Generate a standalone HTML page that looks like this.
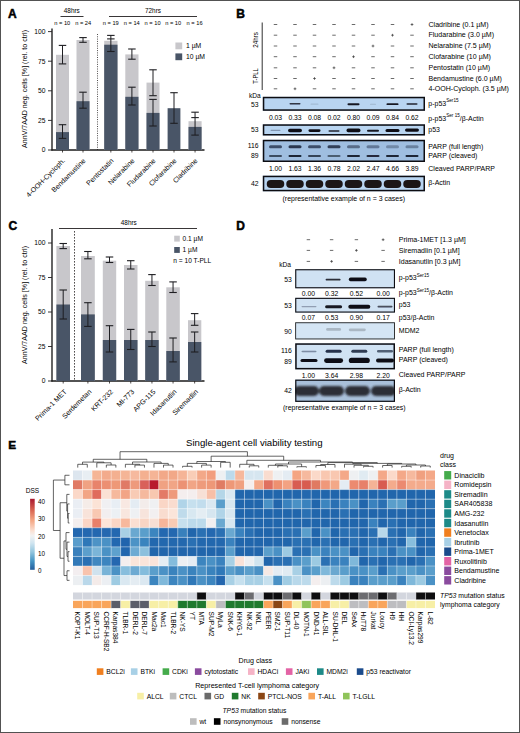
<!DOCTYPE html>
<html><head><meta charset="utf-8"><style>
html,body{margin:0;padding:0;background:#fff;}
svg{display:block;}
text{font-family:"Liberation Sans", sans-serif;}
</style></head><body>
<svg width="520" height="733" viewBox="0 0 520 733">
<defs>
<filter id="bl" x="-30%" y="-100%" width="160%" height="300%"><feGaussianBlur stdDeviation="0.7"/></filter>
<filter id="bl2" x="-30%" y="-100%" width="160%" height="300%"><feGaussianBlur stdDeviation="1.3"/></filter>
<linearGradient id="dss" x1="0" y1="0" x2="0" y2="1">
<stop offset="0" stop-color="#a8172e"/>
<stop offset="0.15" stop-color="#d6604d"/>
<stop offset="0.3" stop-color="#f4a582"/>
<stop offset="0.45" stop-color="#fbe0d2"/>
<stop offset="0.52" stop-color="#f2f2f2"/>
<stop offset="0.62" stop-color="#d1e5f0"/>
<stop offset="0.75" stop-color="#92c5de"/>
<stop offset="0.88" stop-color="#4393c3"/>
<stop offset="1" stop-color="#245d9c"/>
</linearGradient>
</defs>
<rect x="0" y="0" width="520" height="733" fill="#fff"/>

<text x="8.00" y="17.56" font-size="12" font-weight="bold" fill="#000" stroke="#000" stroke-width="0.5">A</text>
<text x="71.80" y="13.07" font-size="6.4" text-anchor="middle">48hrs</text>
<line x1="60.50" y1="16.50" x2="83.50" y2="16.50" stroke="#231f20" stroke-width="0.9"/>
<text x="153.00" y="13.07" font-size="6.4" text-anchor="middle">72hrs</text>
<line x1="109.00" y1="16.50" x2="197.00" y2="16.50" stroke="#231f20" stroke-width="0.9"/>
<text x="62.30" y="25.49" font-size="5.6" text-anchor="middle" textLength="16" lengthAdjust="spacingAndGlyphs">n = 10</text>
<text x="83.20" y="25.49" font-size="5.6" text-anchor="middle" textLength="16" lengthAdjust="spacingAndGlyphs">n = 24</text>
<text x="110.80" y="25.49" font-size="5.6" text-anchor="middle" textLength="16" lengthAdjust="spacingAndGlyphs">n = 19</text>
<text x="131.80" y="25.49" font-size="5.6" text-anchor="middle" textLength="16" lengthAdjust="spacingAndGlyphs">n = 14</text>
<text x="152.60" y="25.49" font-size="5.6" text-anchor="middle" textLength="16" lengthAdjust="spacingAndGlyphs">n = 10</text>
<text x="173.20" y="25.49" font-size="5.6" text-anchor="middle" textLength="16" lengthAdjust="spacingAndGlyphs">n = 10</text>
<text x="194.60" y="25.49" font-size="5.6" text-anchor="middle" textLength="16" lengthAdjust="spacingAndGlyphs">n = 16</text>
<line x1="52.00" y1="28.60" x2="52.00" y2="150.60" stroke="#1a1a1a" stroke-width="1.35"/>
<line x1="51.40" y1="150.00" x2="204.50" y2="150.00" stroke="#1a1a1a" stroke-width="1.35"/>
<line x1="48.00" y1="150.00" x2="52.00" y2="150.00" stroke="#231f20" stroke-width="0.9"/>
<text x="45.40" y="152.38" font-size="6.7" text-anchor="end">0</text>
<line x1="48.00" y1="120.40" x2="52.00" y2="120.40" stroke="#231f20" stroke-width="0.9"/>
<text x="45.40" y="122.78" font-size="6.7" text-anchor="end">25</text>
<line x1="48.00" y1="90.80" x2="52.00" y2="90.80" stroke="#231f20" stroke-width="0.9"/>
<text x="45.40" y="93.18" font-size="6.7" text-anchor="end">50</text>
<line x1="48.00" y1="61.20" x2="52.00" y2="61.20" stroke="#231f20" stroke-width="0.9"/>
<text x="45.40" y="63.58" font-size="6.7" text-anchor="end">75</text>
<line x1="48.00" y1="31.60" x2="52.00" y2="31.60" stroke="#231f20" stroke-width="0.9"/>
<text x="45.40" y="33.98" font-size="6.7" text-anchor="end">100</text>
<text x="24.40" y="91.70" font-size="7.6" text-anchor="middle" textLength="118" lengthAdjust="spacingAndGlyphs" transform="rotate(-90 24.40 89.00)">AnnV/7AAD neg. cells [%] (rel. to ctrl)</text>
<rect x="56.00" y="54.80" width="13.00" height="95.20" fill="#c8c7cb"/>
<rect x="56.00" y="132.10" width="13.00" height="17.90" fill="#495567"/>
<line x1="62.50" y1="45.40" x2="62.50" y2="63.90" stroke="#1e1e22" stroke-width="1.0"/>
<line x1="58.75" y1="45.40" x2="66.25" y2="45.40" stroke="#1e1e22" stroke-width="1.1"/>
<line x1="58.75" y1="63.90" x2="66.25" y2="63.90" stroke="#1e1e22" stroke-width="1.1"/>
<line x1="62.50" y1="124.70" x2="62.50" y2="138.40" stroke="#1e1e22" stroke-width="1.0"/>
<line x1="58.75" y1="124.70" x2="66.25" y2="124.70" stroke="#1e1e22" stroke-width="1.1"/>
<line x1="58.75" y1="138.40" x2="66.25" y2="138.40" stroke="#1e1e22" stroke-width="1.1"/>
<line x1="62.50" y1="150.00" x2="62.50" y2="152.50" stroke="#231f20" stroke-width="0.8"/>
<rect x="76.50" y="40.00" width="13.00" height="110.00" fill="#c8c7cb"/>
<rect x="76.50" y="101.20" width="13.00" height="48.80" fill="#495567"/>
<line x1="83.00" y1="37.60" x2="83.00" y2="42.30" stroke="#1e1e22" stroke-width="1.0"/>
<line x1="79.25" y1="37.60" x2="86.75" y2="37.60" stroke="#1e1e22" stroke-width="1.1"/>
<line x1="79.25" y1="42.30" x2="86.75" y2="42.30" stroke="#1e1e22" stroke-width="1.1"/>
<line x1="83.00" y1="92.20" x2="83.00" y2="108.20" stroke="#1e1e22" stroke-width="1.0"/>
<line x1="79.25" y1="92.20" x2="86.75" y2="92.20" stroke="#1e1e22" stroke-width="1.1"/>
<line x1="79.25" y1="108.20" x2="86.75" y2="108.20" stroke="#1e1e22" stroke-width="1.1"/>
<line x1="83.00" y1="150.00" x2="83.00" y2="152.50" stroke="#231f20" stroke-width="0.8"/>
<rect x="104.20" y="40.80" width="13.30" height="109.20" fill="#c8c7cb"/>
<rect x="104.20" y="44.70" width="13.30" height="105.30" fill="#495567"/>
<line x1="110.85" y1="35.40" x2="110.85" y2="51.50" stroke="#1e1e22" stroke-width="1.0"/>
<line x1="107.10" y1="35.40" x2="114.60" y2="35.40" stroke="#1e1e22" stroke-width="1.1"/>
<line x1="107.10" y1="51.50" x2="114.60" y2="51.50" stroke="#1e1e22" stroke-width="1.1"/>
<line x1="107.10" y1="38.90" x2="114.60" y2="38.90" stroke="#1e1e22" stroke-width="1.1"/>
<line x1="110.85" y1="150.00" x2="110.85" y2="152.50" stroke="#231f20" stroke-width="0.8"/>
<rect x="125.30" y="54.40" width="13.20" height="95.60" fill="#c8c7cb"/>
<rect x="125.30" y="96.80" width="13.20" height="53.20" fill="#495567"/>
<line x1="131.90" y1="49.00" x2="131.90" y2="59.20" stroke="#1e1e22" stroke-width="1.0"/>
<line x1="128.15" y1="49.00" x2="135.65" y2="49.00" stroke="#1e1e22" stroke-width="1.1"/>
<line x1="128.15" y1="59.20" x2="135.65" y2="59.20" stroke="#1e1e22" stroke-width="1.1"/>
<line x1="131.90" y1="87.20" x2="131.90" y2="105.00" stroke="#1e1e22" stroke-width="1.0"/>
<line x1="128.15" y1="87.20" x2="135.65" y2="87.20" stroke="#1e1e22" stroke-width="1.1"/>
<line x1="128.15" y1="105.00" x2="135.65" y2="105.00" stroke="#1e1e22" stroke-width="1.1"/>
<line x1="131.90" y1="150.00" x2="131.90" y2="152.50" stroke="#231f20" stroke-width="0.8"/>
<rect x="146.50" y="82.60" width="13.00" height="67.40" fill="#c8c7cb"/>
<rect x="146.50" y="112.90" width="13.00" height="37.10" fill="#495567"/>
<line x1="153.00" y1="69.80" x2="153.00" y2="95.70" stroke="#1e1e22" stroke-width="1.0"/>
<line x1="149.25" y1="69.80" x2="156.75" y2="69.80" stroke="#1e1e22" stroke-width="1.1"/>
<line x1="149.25" y1="95.70" x2="156.75" y2="95.70" stroke="#1e1e22" stroke-width="1.1"/>
<line x1="153.00" y1="99.40" x2="153.00" y2="126.00" stroke="#1e1e22" stroke-width="1.0"/>
<line x1="149.25" y1="99.40" x2="156.75" y2="99.40" stroke="#1e1e22" stroke-width="1.1"/>
<line x1="149.25" y1="126.00" x2="156.75" y2="126.00" stroke="#1e1e22" stroke-width="1.1"/>
<line x1="153.00" y1="150.00" x2="153.00" y2="152.50" stroke="#231f20" stroke-width="0.8"/>
<rect x="167.60" y="108.20" width="12.80" height="41.80" fill="#495567"/>
<line x1="174.00" y1="92.70" x2="174.00" y2="123.30" stroke="#1e1e22" stroke-width="1.0"/>
<line x1="170.25" y1="92.70" x2="177.75" y2="92.70" stroke="#1e1e22" stroke-width="1.1"/>
<line x1="170.25" y1="123.30" x2="177.75" y2="123.30" stroke="#1e1e22" stroke-width="1.1"/>
<line x1="174.00" y1="150.00" x2="174.00" y2="152.50" stroke="#231f20" stroke-width="0.8"/>
<rect x="188.50" y="121.20" width="13.10" height="28.80" fill="#c8c7cb"/>
<rect x="188.50" y="126.90" width="13.10" height="23.10" fill="#495567"/>
<line x1="195.05" y1="112.20" x2="195.05" y2="135.10" stroke="#1e1e22" stroke-width="1.0"/>
<line x1="191.30" y1="112.20" x2="198.80" y2="112.20" stroke="#1e1e22" stroke-width="1.1"/>
<line x1="191.30" y1="135.10" x2="198.80" y2="135.10" stroke="#1e1e22" stroke-width="1.1"/>
<line x1="191.30" y1="117.60" x2="198.80" y2="117.60" stroke="#1e1e22" stroke-width="1.1"/>
<line x1="195.05" y1="150.00" x2="195.05" y2="152.50" stroke="#231f20" stroke-width="0.8"/>
<line x1="97.50" y1="34.00" x2="97.50" y2="150.00" stroke="#231f20" stroke-width="0.8" stroke-dasharray="1 1.3"/>
<rect x="175.40" y="42.50" width="6.80" height="6.80" fill="#c8c7cb"/>
<rect x="175.40" y="53.40" width="6.80" height="6.80" fill="#495567"/>
<text x="186.00" y="48.41" font-size="6.8">1 µM</text>
<text x="186.00" y="59.21" font-size="6.8">10 µM</text>
<text x="65.50" y="161.2" font-size="7.0" text-anchor="end" transform="rotate(-45 65.50 161.2)">4-OOH-Cycloph.</text>
<text x="86.00" y="161.2" font-size="7.0" text-anchor="end" transform="rotate(-45 86.00 161.2)">Bendamustine</text>
<text x="113.90" y="161.2" font-size="7.0" text-anchor="end" transform="rotate(-45 113.90 161.2)">Pentostatin</text>
<text x="134.90" y="161.2" font-size="7.0" text-anchor="end" transform="rotate(-45 134.90 161.2)">Nelarabine</text>
<text x="156.00" y="161.2" font-size="7.0" text-anchor="end" transform="rotate(-45 156.00 161.2)">Fludarabine</text>
<text x="177.00" y="161.2" font-size="7.0" text-anchor="end" transform="rotate(-45 177.00 161.2)">Clofarabine</text>
<text x="198.00" y="161.2" font-size="7.0" text-anchor="end" transform="rotate(-45 198.00 161.2)">Cladribine</text>
<text x="8.50" y="229.56" font-size="12" font-weight="bold" fill="#000" stroke="#000" stroke-width="0.5">C</text>
<text x="128.80" y="225.17" font-size="6.4" text-anchor="middle">48hrs</text>
<line x1="59.00" y1="228.50" x2="197.00" y2="228.50" stroke="#231f20" stroke-width="0.9"/>
<line x1="52.00" y1="229.00" x2="52.00" y2="381.60" stroke="#1a1a1a" stroke-width="1.35"/>
<line x1="51.40" y1="381.00" x2="204.50" y2="381.00" stroke="#1a1a1a" stroke-width="1.35"/>
<line x1="48.00" y1="381.00" x2="52.00" y2="381.00" stroke="#231f20" stroke-width="0.9"/>
<text x="45.40" y="383.38" font-size="6.7" text-anchor="end">0</text>
<line x1="48.00" y1="346.50" x2="52.00" y2="346.50" stroke="#231f20" stroke-width="0.9"/>
<text x="45.40" y="348.88" font-size="6.7" text-anchor="end">25</text>
<line x1="48.00" y1="312.00" x2="52.00" y2="312.00" stroke="#231f20" stroke-width="0.9"/>
<text x="45.40" y="314.38" font-size="6.7" text-anchor="end">50</text>
<line x1="48.00" y1="277.50" x2="52.00" y2="277.50" stroke="#231f20" stroke-width="0.9"/>
<text x="45.40" y="279.88" font-size="6.7" text-anchor="end">75</text>
<line x1="48.00" y1="243.00" x2="52.00" y2="243.00" stroke="#231f20" stroke-width="0.9"/>
<text x="45.40" y="245.38" font-size="6.7" text-anchor="end">100</text>
<text x="24.80" y="307.70" font-size="7.6" text-anchor="middle" textLength="118" lengthAdjust="spacingAndGlyphs" transform="rotate(-90 24.80 305.00)">AnnV/7AAD neg. cells [%] (rel. to ctrl)</text>
<rect x="56.40" y="246.00" width="13.60" height="135.00" fill="#c8c7cb"/>
<rect x="56.40" y="304.50" width="13.60" height="76.50" fill="#495567"/>
<line x1="63.20" y1="243.50" x2="63.20" y2="248.60" stroke="#1e1e22" stroke-width="1.0"/>
<line x1="59.45" y1="243.50" x2="66.95" y2="243.50" stroke="#1e1e22" stroke-width="1.1"/>
<line x1="59.45" y1="248.60" x2="66.95" y2="248.60" stroke="#1e1e22" stroke-width="1.1"/>
<line x1="63.20" y1="290.00" x2="63.20" y2="319.00" stroke="#1e1e22" stroke-width="1.0"/>
<line x1="59.45" y1="290.00" x2="66.95" y2="290.00" stroke="#1e1e22" stroke-width="1.1"/>
<line x1="59.45" y1="319.00" x2="66.95" y2="319.00" stroke="#1e1e22" stroke-width="1.1"/>
<line x1="63.20" y1="381.00" x2="63.20" y2="383.50" stroke="#231f20" stroke-width="0.8"/>
<rect x="81.00" y="256.00" width="13.80" height="125.00" fill="#c8c7cb"/>
<rect x="81.00" y="314.40" width="13.80" height="66.60" fill="#495567"/>
<line x1="87.90" y1="251.50" x2="87.90" y2="258.80" stroke="#1e1e22" stroke-width="1.0"/>
<line x1="84.15" y1="251.50" x2="91.65" y2="251.50" stroke="#1e1e22" stroke-width="1.1"/>
<line x1="84.15" y1="258.80" x2="91.65" y2="258.80" stroke="#1e1e22" stroke-width="1.1"/>
<line x1="87.90" y1="302.70" x2="87.90" y2="326.40" stroke="#1e1e22" stroke-width="1.0"/>
<line x1="84.15" y1="302.70" x2="91.65" y2="302.70" stroke="#1e1e22" stroke-width="1.1"/>
<line x1="84.15" y1="326.40" x2="91.65" y2="326.40" stroke="#1e1e22" stroke-width="1.1"/>
<line x1="87.90" y1="381.00" x2="87.90" y2="383.50" stroke="#231f20" stroke-width="0.8"/>
<rect x="102.80" y="260.70" width="13.40" height="120.30" fill="#c8c7cb"/>
<rect x="102.80" y="340.00" width="13.40" height="41.00" fill="#495567"/>
<line x1="109.50" y1="257.00" x2="109.50" y2="262.50" stroke="#1e1e22" stroke-width="1.0"/>
<line x1="105.75" y1="257.00" x2="113.25" y2="257.00" stroke="#1e1e22" stroke-width="1.1"/>
<line x1="105.75" y1="262.50" x2="113.25" y2="262.50" stroke="#1e1e22" stroke-width="1.1"/>
<line x1="109.50" y1="325.70" x2="109.50" y2="352.00" stroke="#1e1e22" stroke-width="1.0"/>
<line x1="105.75" y1="325.70" x2="113.25" y2="325.70" stroke="#1e1e22" stroke-width="1.1"/>
<line x1="105.75" y1="352.00" x2="113.25" y2="352.00" stroke="#1e1e22" stroke-width="1.1"/>
<line x1="109.50" y1="381.00" x2="109.50" y2="383.50" stroke="#231f20" stroke-width="0.8"/>
<rect x="124.00" y="265.00" width="13.50" height="116.00" fill="#c8c7cb"/>
<rect x="124.00" y="340.00" width="13.50" height="41.00" fill="#495567"/>
<line x1="130.75" y1="260.70" x2="130.75" y2="269.00" stroke="#1e1e22" stroke-width="1.0"/>
<line x1="127.00" y1="260.70" x2="134.50" y2="260.70" stroke="#1e1e22" stroke-width="1.1"/>
<line x1="127.00" y1="269.00" x2="134.50" y2="269.00" stroke="#1e1e22" stroke-width="1.1"/>
<line x1="130.75" y1="329.40" x2="130.75" y2="349.50" stroke="#1e1e22" stroke-width="1.0"/>
<line x1="127.00" y1="329.40" x2="134.50" y2="329.40" stroke="#1e1e22" stroke-width="1.1"/>
<line x1="127.00" y1="349.50" x2="134.50" y2="349.50" stroke="#1e1e22" stroke-width="1.1"/>
<line x1="130.75" y1="381.00" x2="130.75" y2="383.50" stroke="#231f20" stroke-width="0.8"/>
<rect x="145.20" y="280.80" width="13.50" height="100.20" fill="#c8c7cb"/>
<rect x="145.20" y="340.00" width="13.50" height="41.00" fill="#495567"/>
<line x1="151.95" y1="274.60" x2="151.95" y2="285.50" stroke="#1e1e22" stroke-width="1.0"/>
<line x1="148.20" y1="274.60" x2="155.70" y2="274.60" stroke="#1e1e22" stroke-width="1.1"/>
<line x1="148.20" y1="285.50" x2="155.70" y2="285.50" stroke="#1e1e22" stroke-width="1.1"/>
<line x1="151.95" y1="332.00" x2="151.95" y2="346.50" stroke="#1e1e22" stroke-width="1.0"/>
<line x1="148.20" y1="332.00" x2="155.70" y2="332.00" stroke="#1e1e22" stroke-width="1.1"/>
<line x1="148.20" y1="346.50" x2="155.70" y2="346.50" stroke="#1e1e22" stroke-width="1.1"/>
<line x1="151.95" y1="381.00" x2="151.95" y2="383.50" stroke="#231f20" stroke-width="0.8"/>
<rect x="166.30" y="287.30" width="13.50" height="93.70" fill="#c8c7cb"/>
<rect x="166.30" y="351.00" width="13.50" height="30.00" fill="#495567"/>
<line x1="173.05" y1="281.90" x2="173.05" y2="292.50" stroke="#1e1e22" stroke-width="1.0"/>
<line x1="169.30" y1="281.90" x2="176.80" y2="281.90" stroke="#1e1e22" stroke-width="1.1"/>
<line x1="169.30" y1="292.50" x2="176.80" y2="292.50" stroke="#1e1e22" stroke-width="1.1"/>
<line x1="173.05" y1="338.00" x2="173.05" y2="361.90" stroke="#1e1e22" stroke-width="1.0"/>
<line x1="169.30" y1="338.00" x2="176.80" y2="338.00" stroke="#1e1e22" stroke-width="1.1"/>
<line x1="169.30" y1="361.90" x2="176.80" y2="361.90" stroke="#1e1e22" stroke-width="1.1"/>
<line x1="173.05" y1="381.00" x2="173.05" y2="383.50" stroke="#231f20" stroke-width="0.8"/>
<rect x="188.00" y="320.20" width="13.30" height="60.80" fill="#c8c7cb"/>
<rect x="188.00" y="342.00" width="13.30" height="39.00" fill="#495567"/>
<line x1="194.65" y1="313.60" x2="194.65" y2="325.30" stroke="#1e1e22" stroke-width="1.0"/>
<line x1="190.90" y1="313.60" x2="198.40" y2="313.60" stroke="#1e1e22" stroke-width="1.1"/>
<line x1="190.90" y1="325.30" x2="198.40" y2="325.30" stroke="#1e1e22" stroke-width="1.1"/>
<line x1="194.65" y1="332.00" x2="194.65" y2="352.00" stroke="#1e1e22" stroke-width="1.0"/>
<line x1="190.90" y1="332.00" x2="198.40" y2="332.00" stroke="#1e1e22" stroke-width="1.1"/>
<line x1="190.90" y1="352.00" x2="198.40" y2="352.00" stroke="#1e1e22" stroke-width="1.1"/>
<line x1="194.65" y1="381.00" x2="194.65" y2="383.50" stroke="#231f20" stroke-width="0.8"/>
<line x1="74.50" y1="231.00" x2="74.50" y2="381.00" stroke="#231f20" stroke-width="0.8" stroke-dasharray="1.6 1.4"/>
<rect x="174.20" y="235.70" width="5.60" height="5.90" fill="#c8c7cb"/>
<rect x="174.20" y="247.00" width="5.60" height="5.90" fill="#495567"/>
<text x="182.60" y="240.84" font-size="6.6">0.1 µM</text>
<text x="182.60" y="252.24" font-size="6.6">1 µM</text>
<text x="173.30" y="262.54" font-size="6.6">n = 10 T-PLL</text>
<text x="67.20" y="392.2" font-size="7.0" text-anchor="end" transform="rotate(-45 67.20 392.2)">Prima-1 MET</text>
<text x="91.90" y="392.2" font-size="7.0" text-anchor="end" transform="rotate(-45 91.90 392.2)">Serdemetan</text>
<text x="113.50" y="392.2" font-size="7.0" text-anchor="end" transform="rotate(-45 113.50 392.2)">KRT-232</text>
<text x="134.80" y="392.2" font-size="7.0" text-anchor="end" transform="rotate(-45 134.80 392.2)">MI-773</text>
<text x="156.00" y="392.2" font-size="7.0" text-anchor="end" transform="rotate(-45 156.00 392.2)">APG-115</text>
<text x="177.00" y="392.2" font-size="7.0" text-anchor="end" transform="rotate(-45 177.00 392.2)">Idasanutlin</text>
<text x="198.60" y="392.2" font-size="7.0" text-anchor="end" transform="rotate(-45 198.60 392.2)">Siremadlin</text>
<text x="236.20" y="17.56" font-size="12" font-weight="bold" fill="#000" stroke="#000" stroke-width="0.5">B</text>
<line x1="262.20" y1="22.50" x2="262.20" y2="90.00" stroke="#1a1a1a" stroke-width="0.9"/>
<text x="255.60" y="42.34" font-size="6.6" text-anchor="middle" textLength="15.6" lengthAdjust="spacingAndGlyphs" transform="rotate(-90 255.60 40.00)">24hrs</text>
<text x="255.60" y="78.34" font-size="6.6" text-anchor="middle" textLength="15.4" lengthAdjust="spacingAndGlyphs" transform="rotate(-90 255.60 76.00)">T-PLL</text>
<line x1="273.75" y1="24.50" x2="277.25" y2="24.50" stroke="#3a3a3a" stroke-width="0.75"/>
<line x1="293.25" y1="24.50" x2="296.75" y2="24.50" stroke="#3a3a3a" stroke-width="0.75"/>
<line x1="312.75" y1="24.50" x2="316.25" y2="24.50" stroke="#3a3a3a" stroke-width="0.75"/>
<line x1="332.25" y1="24.50" x2="335.75" y2="24.50" stroke="#3a3a3a" stroke-width="0.75"/>
<line x1="351.75" y1="24.50" x2="355.25" y2="24.50" stroke="#3a3a3a" stroke-width="0.75"/>
<line x1="371.25" y1="24.50" x2="374.75" y2="24.50" stroke="#3a3a3a" stroke-width="0.75"/>
<line x1="390.75" y1="24.50" x2="394.25" y2="24.50" stroke="#3a3a3a" stroke-width="0.75"/>
<line x1="410.65" y1="24.50" x2="413.35" y2="24.50" stroke="#333" stroke-width="0.7"/>
<line x1="412.00" y1="23.15" x2="412.00" y2="25.85" stroke="#333" stroke-width="0.7"/>
<text x="428.50" y="26.70" font-size="7.05">Cladribine (0.1 µM)</text>
<line x1="273.75" y1="35.20" x2="277.25" y2="35.20" stroke="#3a3a3a" stroke-width="0.75"/>
<line x1="293.25" y1="35.20" x2="296.75" y2="35.20" stroke="#3a3a3a" stroke-width="0.75"/>
<line x1="312.75" y1="35.20" x2="316.25" y2="35.20" stroke="#3a3a3a" stroke-width="0.75"/>
<line x1="332.25" y1="35.20" x2="335.75" y2="35.20" stroke="#3a3a3a" stroke-width="0.75"/>
<line x1="351.75" y1="35.20" x2="355.25" y2="35.20" stroke="#3a3a3a" stroke-width="0.75"/>
<line x1="371.25" y1="35.20" x2="374.75" y2="35.20" stroke="#3a3a3a" stroke-width="0.75"/>
<line x1="391.15" y1="35.20" x2="393.85" y2="35.20" stroke="#333" stroke-width="0.7"/>
<line x1="392.50" y1="33.85" x2="392.50" y2="36.55" stroke="#333" stroke-width="0.7"/>
<line x1="410.25" y1="35.20" x2="413.75" y2="35.20" stroke="#3a3a3a" stroke-width="0.75"/>
<text x="428.50" y="37.40" font-size="7.05">Fludarabine (3.0 µM)</text>
<line x1="273.75" y1="46.00" x2="277.25" y2="46.00" stroke="#3a3a3a" stroke-width="0.75"/>
<line x1="293.25" y1="46.00" x2="296.75" y2="46.00" stroke="#3a3a3a" stroke-width="0.75"/>
<line x1="312.75" y1="46.00" x2="316.25" y2="46.00" stroke="#3a3a3a" stroke-width="0.75"/>
<line x1="332.25" y1="46.00" x2="335.75" y2="46.00" stroke="#3a3a3a" stroke-width="0.75"/>
<line x1="351.75" y1="46.00" x2="355.25" y2="46.00" stroke="#3a3a3a" stroke-width="0.75"/>
<line x1="371.65" y1="46.00" x2="374.35" y2="46.00" stroke="#333" stroke-width="0.7"/>
<line x1="373.00" y1="44.65" x2="373.00" y2="47.35" stroke="#333" stroke-width="0.7"/>
<line x1="390.75" y1="46.00" x2="394.25" y2="46.00" stroke="#3a3a3a" stroke-width="0.75"/>
<line x1="410.25" y1="46.00" x2="413.75" y2="46.00" stroke="#3a3a3a" stroke-width="0.75"/>
<text x="428.50" y="48.20" font-size="7.05">Nelarabine (7.5 µM)</text>
<line x1="273.75" y1="56.70" x2="277.25" y2="56.70" stroke="#3a3a3a" stroke-width="0.75"/>
<line x1="293.25" y1="56.70" x2="296.75" y2="56.70" stroke="#3a3a3a" stroke-width="0.75"/>
<line x1="312.75" y1="56.70" x2="316.25" y2="56.70" stroke="#3a3a3a" stroke-width="0.75"/>
<line x1="332.25" y1="56.70" x2="335.75" y2="56.70" stroke="#3a3a3a" stroke-width="0.75"/>
<line x1="352.15" y1="56.70" x2="354.85" y2="56.70" stroke="#333" stroke-width="0.7"/>
<line x1="353.50" y1="55.35" x2="353.50" y2="58.05" stroke="#333" stroke-width="0.7"/>
<line x1="371.25" y1="56.70" x2="374.75" y2="56.70" stroke="#3a3a3a" stroke-width="0.75"/>
<line x1="390.75" y1="56.70" x2="394.25" y2="56.70" stroke="#3a3a3a" stroke-width="0.75"/>
<line x1="410.25" y1="56.70" x2="413.75" y2="56.70" stroke="#3a3a3a" stroke-width="0.75"/>
<text x="428.50" y="58.90" font-size="7.05">Clofarabine (10 µM)</text>
<line x1="273.75" y1="67.80" x2="277.25" y2="67.80" stroke="#3a3a3a" stroke-width="0.75"/>
<line x1="293.25" y1="67.80" x2="296.75" y2="67.80" stroke="#3a3a3a" stroke-width="0.75"/>
<line x1="312.75" y1="67.80" x2="316.25" y2="67.80" stroke="#3a3a3a" stroke-width="0.75"/>
<line x1="332.65" y1="67.80" x2="335.35" y2="67.80" stroke="#333" stroke-width="0.7"/>
<line x1="334.00" y1="66.45" x2="334.00" y2="69.15" stroke="#333" stroke-width="0.7"/>
<line x1="351.75" y1="67.80" x2="355.25" y2="67.80" stroke="#3a3a3a" stroke-width="0.75"/>
<line x1="371.25" y1="67.80" x2="374.75" y2="67.80" stroke="#3a3a3a" stroke-width="0.75"/>
<line x1="390.75" y1="67.80" x2="394.25" y2="67.80" stroke="#3a3a3a" stroke-width="0.75"/>
<line x1="410.25" y1="67.80" x2="413.75" y2="67.80" stroke="#3a3a3a" stroke-width="0.75"/>
<text x="428.50" y="70.00" font-size="7.05">Pentostatin (10 µM)</text>
<line x1="273.75" y1="78.50" x2="277.25" y2="78.50" stroke="#3a3a3a" stroke-width="0.75"/>
<line x1="293.25" y1="78.50" x2="296.75" y2="78.50" stroke="#3a3a3a" stroke-width="0.75"/>
<line x1="313.15" y1="78.50" x2="315.85" y2="78.50" stroke="#333" stroke-width="0.7"/>
<line x1="314.50" y1="77.15" x2="314.50" y2="79.85" stroke="#333" stroke-width="0.7"/>
<line x1="332.25" y1="78.50" x2="335.75" y2="78.50" stroke="#3a3a3a" stroke-width="0.75"/>
<line x1="351.75" y1="78.50" x2="355.25" y2="78.50" stroke="#3a3a3a" stroke-width="0.75"/>
<line x1="371.25" y1="78.50" x2="374.75" y2="78.50" stroke="#3a3a3a" stroke-width="0.75"/>
<line x1="390.75" y1="78.50" x2="394.25" y2="78.50" stroke="#3a3a3a" stroke-width="0.75"/>
<line x1="410.25" y1="78.50" x2="413.75" y2="78.50" stroke="#3a3a3a" stroke-width="0.75"/>
<text x="428.50" y="80.70" font-size="7.05">Bendamustine (6.0 µM)</text>
<line x1="273.75" y1="88.80" x2="277.25" y2="88.80" stroke="#3a3a3a" stroke-width="0.75"/>
<line x1="293.65" y1="88.80" x2="296.35" y2="88.80" stroke="#333" stroke-width="0.7"/>
<line x1="295.00" y1="87.45" x2="295.00" y2="90.15" stroke="#333" stroke-width="0.7"/>
<line x1="312.75" y1="88.80" x2="316.25" y2="88.80" stroke="#3a3a3a" stroke-width="0.75"/>
<line x1="332.25" y1="88.80" x2="335.75" y2="88.80" stroke="#3a3a3a" stroke-width="0.75"/>
<line x1="351.75" y1="88.80" x2="355.25" y2="88.80" stroke="#3a3a3a" stroke-width="0.75"/>
<line x1="371.25" y1="88.80" x2="374.75" y2="88.80" stroke="#3a3a3a" stroke-width="0.75"/>
<line x1="390.75" y1="88.80" x2="394.25" y2="88.80" stroke="#3a3a3a" stroke-width="0.75"/>
<line x1="410.25" y1="88.80" x2="413.75" y2="88.80" stroke="#3a3a3a" stroke-width="0.75"/>
<text x="428.50" y="91.00" font-size="7.05">4-OOH-Cycloph. (3.5 µM)</text>
<text x="249.00" y="98.24" font-size="6.6">kDa</text>
<clipPath id="cp1"><rect x="262.80" y="96.80" width="162.20" height="14.00"/></clipPath>
<g>
<rect x="262.80" y="96.80" width="162.20" height="14.00" fill="#b9d5f1"/>
<g clip-path="url(#cp1)"><g filter="url(#bl)">
<rect x="289.50" y="103.05" width="11.00" height="1.50" rx="0.75" fill="#101018" fill-opacity="0.8"/>
<rect x="310.50" y="103.60" width="8.00" height="1.20" rx="0.60" fill="#101018" fill-opacity="0.12"/>
<rect x="347.50" y="103.20" width="12.00" height="2.00" rx="1.00" fill="#101018" fill-opacity="0.95"/>
<rect x="370.00" y="103.80" width="6.00" height="1.00" rx="0.50" fill="#101018" fill-opacity="0.15"/>
<rect x="386.50" y="103.30" width="12.00" height="1.80" rx="0.90" fill="#101018" fill-opacity="0.95"/>
<rect x="406.50" y="103.20" width="11.00" height="1.60" rx="0.80" fill="#101018" fill-opacity="0.9"/>
</g></g>
<rect x="263.55" y="97.55" width="160.70" height="12.50" fill="none" stroke="#0d0d12" stroke-width="1.5"/>
</g>
<clipPath id="cp2"><rect x="262.80" y="124.30" width="162.20" height="11.20"/></clipPath>
<g>
<rect x="262.80" y="124.30" width="162.20" height="11.20" fill="#b9d5f1"/>
<g clip-path="url(#cp2)"><g filter="url(#bl)">
<rect x="270.50" y="129.70" width="10.00" height="1.20" rx="0.60" fill="#101018" fill-opacity="0.3"/>
<rect x="288.00" y="128.70" width="14.00" height="3.60" rx="1.80" fill="#101018" fill-opacity="1"/>
<rect x="308.50" y="129.30" width="12.00" height="2.60" rx="1.30" fill="#101018" fill-opacity="1"/>
<rect x="328.50" y="130.15" width="11.00" height="1.50" rx="0.75" fill="#101018" fill-opacity="0.9"/>
<rect x="346.50" y="128.60" width="14.00" height="3.60" rx="1.80" fill="#101018" fill-opacity="1"/>
<rect x="367.00" y="129.70" width="12.00" height="2.00" rx="1.00" fill="#101018" fill-opacity="0.95"/>
<rect x="385.50" y="128.90" width="14.00" height="3.00" rx="1.50" fill="#101018" fill-opacity="1"/>
<rect x="405.00" y="128.40" width="14.00" height="3.40" rx="1.70" fill="#101018" fill-opacity="1"/>
</g></g>
<rect x="263.55" y="125.05" width="160.70" height="9.70" fill="none" stroke="#0d0d12" stroke-width="1.5"/>
</g>
<clipPath id="cp3"><rect x="262.80" y="139.80" width="162.20" height="22.20"/></clipPath>
<g>
<rect x="262.80" y="139.80" width="162.20" height="22.20" fill="#9fbee0"/>
<g clip-path="url(#cp3)"><g filter="url(#bl)">
<rect x="269.00" y="145.30" width="13.00" height="3.00" rx="1.50" fill="#1c2840" fill-opacity="0.75"/>
<rect x="269.00" y="154.90" width="13.00" height="2.20" rx="1.10" fill="#141a2a" fill-opacity="0.7"/>
<rect x="288.50" y="145.30" width="13.00" height="3.00" rx="1.50" fill="#1c2840" fill-opacity="0.9"/>
<rect x="288.50" y="154.90" width="13.00" height="2.20" rx="1.10" fill="#141a2a" fill-opacity="0.95"/>
<rect x="308.00" y="145.30" width="13.00" height="3.00" rx="1.50" fill="#1c2840" fill-opacity="0.75"/>
<rect x="308.00" y="154.90" width="13.00" height="2.20" rx="1.10" fill="#141a2a" fill-opacity="0.75"/>
<rect x="327.50" y="145.30" width="13.00" height="3.00" rx="1.50" fill="#1c2840" fill-opacity="0.85"/>
<rect x="327.50" y="154.90" width="13.00" height="2.20" rx="1.10" fill="#141a2a" fill-opacity="0.6"/>
<rect x="347.00" y="145.30" width="13.00" height="3.00" rx="1.50" fill="#1c2840" fill-opacity="0.55"/>
<rect x="347.00" y="154.90" width="13.00" height="2.20" rx="1.10" fill="#141a2a" fill-opacity="0.95"/>
<rect x="366.50" y="145.30" width="13.00" height="3.00" rx="1.50" fill="#1c2840" fill-opacity="0.45"/>
<rect x="366.50" y="154.90" width="13.00" height="2.20" rx="1.10" fill="#141a2a" fill-opacity="0.9"/>
<rect x="386.00" y="145.30" width="13.00" height="3.00" rx="1.50" fill="#1c2840" fill-opacity="0.35"/>
<rect x="386.00" y="154.90" width="13.00" height="2.20" rx="1.10" fill="#141a2a" fill-opacity="0.95"/>
<rect x="405.50" y="145.30" width="13.00" height="3.00" rx="1.50" fill="#1c2840" fill-opacity="0.4"/>
<rect x="405.50" y="154.90" width="13.00" height="2.20" rx="1.10" fill="#141a2a" fill-opacity="0.95"/>
</g></g>
<rect x="263.55" y="140.55" width="160.70" height="20.70" fill="none" stroke="#0d0d12" stroke-width="1.5"/>
</g>
<clipPath id="cp4"><rect x="262.80" y="175.70" width="162.20" height="15.60"/></clipPath>
<g>
<rect x="262.80" y="175.70" width="162.20" height="15.60" fill="#b9d5f1"/>
<g clip-path="url(#cp4)"><g filter="url(#bl)">
<rect x="266.75" y="180.00" width="17.50" height="8.00" rx="4.00" fill="#1c1718" fill-opacity="1"/>
<rect x="286.25" y="180.00" width="17.50" height="8.00" rx="4.00" fill="#1c1718" fill-opacity="1"/>
<rect x="305.75" y="180.00" width="17.50" height="8.00" rx="4.00" fill="#1c1718" fill-opacity="1"/>
<rect x="325.25" y="180.00" width="17.50" height="8.00" rx="4.00" fill="#1c1718" fill-opacity="1"/>
<rect x="344.75" y="180.00" width="17.50" height="8.00" rx="4.00" fill="#1c1718" fill-opacity="1"/>
<rect x="364.25" y="180.00" width="17.50" height="8.00" rx="4.00" fill="#1c1718" fill-opacity="1"/>
<rect x="383.75" y="180.00" width="17.50" height="8.00" rx="4.00" fill="#1c1718" fill-opacity="1"/>
<rect x="403.25" y="180.00" width="17.50" height="8.00" rx="4.00" fill="#1c1718" fill-opacity="1"/>
</g></g>
<rect x="263.55" y="176.45" width="160.70" height="14.10" fill="none" stroke="#0d0d12" stroke-width="1.5"/>
</g>
<text x="275.50" y="120.11" font-size="6.8" text-anchor="middle">0.03</text>
<text x="295.00" y="120.11" font-size="6.8" text-anchor="middle">0.33</text>
<text x="314.50" y="120.11" font-size="6.8" text-anchor="middle">0.08</text>
<text x="334.00" y="120.11" font-size="6.8" text-anchor="middle">0.02</text>
<text x="353.50" y="120.11" font-size="6.8" text-anchor="middle">0.80</text>
<text x="373.00" y="120.11" font-size="6.8" text-anchor="middle">0.09</text>
<text x="392.50" y="120.11" font-size="6.8" text-anchor="middle">0.84</text>
<text x="412.00" y="120.11" font-size="6.8" text-anchor="middle">0.62</text>
<text x="275.50" y="171.31" font-size="6.8" text-anchor="middle">1.00</text>
<text x="295.00" y="171.31" font-size="6.8" text-anchor="middle">1.63</text>
<text x="314.50" y="171.31" font-size="6.8" text-anchor="middle">1.36</text>
<text x="334.00" y="171.31" font-size="6.8" text-anchor="middle">0.78</text>
<text x="353.50" y="171.31" font-size="6.8" text-anchor="middle">2.02</text>
<text x="373.00" y="171.31" font-size="6.8" text-anchor="middle">2.47</text>
<text x="392.50" y="171.31" font-size="6.8" text-anchor="middle">4.66</text>
<text x="412.00" y="171.31" font-size="6.8" text-anchor="middle">3.89</text>
<text x="258.50" y="107.21" font-size="6.8" text-anchor="end">53</text>
<text x="258.50" y="132.41" font-size="6.8" text-anchor="end">53</text>
<text x="258.50" y="148.21" font-size="6.8" text-anchor="end">116</text>
<text x="258.50" y="158.41" font-size="6.8" text-anchor="end">89</text>
<text x="258.50" y="186.41" font-size="6.8" text-anchor="end">42</text>
<text x="428.30" y="105.78" font-size="7.0">p-p53<tspan font-size="4.62" dy="-3.50">Ser15</tspan></text>
<text x="428.30" y="120.78" font-size="7.0">p-p53<tspan font-size="4.62" dy="-3.50">Ser 15</tspan><tspan dy="3.50">/β-Actin</tspan></text>
<text x="428.30" y="131.99" font-size="7.0">p53</text>
<text x="428.30" y="149.49" font-size="7.0">PARP (full length)</text>
<text x="428.30" y="158.09" font-size="7.0">PARP (cleaved)</text>
<text x="428.30" y="171.09" font-size="7.0">Cleaved PARP/PARP</text>
<text x="428.30" y="185.29" font-size="7.0">β-Actin</text>
<text x="282.50" y="201.27" font-size="6.4" textLength="122.5" lengthAdjust="spacingAndGlyphs">(representative example of n = 3 cases)</text>
<text x="236.20" y="229.50" font-size="12" font-weight="bold" fill="#000" stroke="#000" stroke-width="0.5">D</text>
<line x1="306.70" y1="239.70" x2="310.10" y2="239.70" stroke="#3a3a3a" stroke-width="0.75"/>
<line x1="329.90" y1="239.70" x2="333.30" y2="239.70" stroke="#3a3a3a" stroke-width="0.75"/>
<line x1="354.70" y1="239.70" x2="358.10" y2="239.70" stroke="#3a3a3a" stroke-width="0.75"/>
<line x1="381.75" y1="239.70" x2="384.45" y2="239.70" stroke="#333" stroke-width="0.7"/>
<line x1="383.10" y1="238.35" x2="383.10" y2="241.05" stroke="#333" stroke-width="0.7"/>
<text x="398.80" y="242.20" font-size="7.05">Prima-1MET [1.3 µM]</text>
<line x1="306.70" y1="250.40" x2="310.10" y2="250.40" stroke="#3a3a3a" stroke-width="0.75"/>
<line x1="329.90" y1="250.40" x2="333.30" y2="250.40" stroke="#3a3a3a" stroke-width="0.75"/>
<line x1="355.05" y1="250.40" x2="357.75" y2="250.40" stroke="#333" stroke-width="0.7"/>
<line x1="356.40" y1="249.05" x2="356.40" y2="251.75" stroke="#333" stroke-width="0.7"/>
<line x1="381.40" y1="250.40" x2="384.80" y2="250.40" stroke="#3a3a3a" stroke-width="0.75"/>
<text x="398.80" y="252.90" font-size="7.05">Siremadlin [0.1 µM]</text>
<line x1="306.70" y1="261.40" x2="310.10" y2="261.40" stroke="#3a3a3a" stroke-width="0.75"/>
<line x1="330.25" y1="261.40" x2="332.95" y2="261.40" stroke="#333" stroke-width="0.7"/>
<line x1="331.60" y1="260.05" x2="331.60" y2="262.75" stroke="#333" stroke-width="0.7"/>
<line x1="354.70" y1="261.40" x2="358.10" y2="261.40" stroke="#3a3a3a" stroke-width="0.75"/>
<line x1="381.40" y1="261.40" x2="384.80" y2="261.40" stroke="#3a3a3a" stroke-width="0.75"/>
<text x="398.80" y="263.90" font-size="7.05">Idasanutlin [0.3 µM]</text>
<text x="279.30" y="266.54" font-size="6.6">kDa</text>
<clipPath id="cp5"><rect x="295.20" y="269.20" width="99.80" height="19.10"/></clipPath>
<g>
<rect x="295.20" y="269.20" width="99.80" height="19.10" fill="#d0e2f3"/>
<g clip-path="url(#cp5)"><g filter="url(#bl)">
<rect x="325.60" y="278.75" width="15.00" height="1.70" rx="0.85" fill="#101018" fill-opacity="0.85"/>
<rect x="348.80" y="277.60" width="18.00" height="3.60" rx="1.80" fill="#101018" fill-opacity="1"/>
</g></g>
<rect x="295.75" y="269.75" width="98.70" height="18.00" fill="none" stroke="#0d0d12" stroke-width="1.1"/>
</g>
<clipPath id="cp6"><rect x="295.20" y="297.80" width="99.80" height="14.80"/></clipPath>
<g>
<rect x="295.20" y="297.80" width="99.80" height="14.80" fill="#d0e2f3"/>
<g clip-path="url(#cp6)"><g filter="url(#bl)">
<rect x="301.50" y="305.95" width="15.00" height="1.30" rx="0.65" fill="#101018" fill-opacity="0.3"/>
<rect x="325.10" y="305.30" width="17.00" height="3.00" rx="1.50" fill="#101018" fill-opacity="0.95"/>
<rect x="348.30" y="304.80" width="22.00" height="4.00" rx="2.00" fill="#101018" fill-opacity="1"/>
<rect x="377.50" y="305.70" width="15.00" height="1.80" rx="0.90" fill="#101018" fill-opacity="0.7"/>
</g></g>
<rect x="295.75" y="298.35" width="98.70" height="13.70" fill="none" stroke="#0d0d12" stroke-width="1.1"/>
</g>
<clipPath id="cp7"><rect x="295.20" y="322.30" width="99.80" height="17.10"/></clipPath>
<g>
<rect x="295.20" y="322.30" width="99.80" height="17.10" fill="#d4e5f4"/>
<g clip-path="url(#cp7)"><g filter="url(#bl)">
<rect x="326.10" y="328.10" width="15.00" height="2.60" rx="1.30" fill="#101018" fill-opacity="0.2"/>
<rect x="348.80" y="328.40" width="17.00" height="2.80" rx="1.40" fill="#101018" fill-opacity="0.2"/>
</g></g>
<rect x="295.65" y="322.75" width="98.90" height="16.20" fill="none" stroke="#222" stroke-width="0.9"/>
</g>
<clipPath id="cp8"><rect x="295.20" y="343.30" width="99.80" height="26.10"/></clipPath>
<g>
<rect x="295.20" y="343.30" width="99.80" height="26.10" fill="#d0e2f3"/>
<g clip-path="url(#cp8)"><g filter="url(#bl)">
<rect x="301.50" y="350.65" width="15.00" height="1.50" rx="0.75" fill="#1c2840" fill-opacity="0.45"/>
<rect x="325.60" y="349.80" width="16.00" height="3.00" rx="1.50" fill="#1c2840" fill-opacity="0.95"/>
<rect x="351.30" y="349.80" width="16.00" height="3.00" rx="1.50" fill="#1c2840" fill-opacity="0.9"/>
<rect x="377.00" y="350.10" width="16.00" height="2.40" rx="1.20" fill="#1c2840" fill-opacity="0.7"/>
<rect x="300.50" y="359.10" width="17.00" height="3.00" rx="1.50" fill="#101018" fill-opacity="1"/>
<rect x="324.10" y="358.30" width="19.00" height="4.60" rx="2.30" fill="#101018" fill-opacity="1"/>
<rect x="348.80" y="357.80" width="21.00" height="5.20" rx="2.60" fill="#101018" fill-opacity="1"/>
<rect x="376.00" y="358.60" width="18.00" height="4.00" rx="2.00" fill="#101018" fill-opacity="1"/>
</g></g>
<rect x="295.95" y="344.05" width="98.30" height="24.60" fill="none" stroke="#0d0d12" stroke-width="1.5"/>
</g>
<clipPath id="cp9"><rect x="295.20" y="379.60" width="99.80" height="22.30"/></clipPath>
<g>
<rect x="295.20" y="379.60" width="99.80" height="22.30" fill="#a9c0da"/>
<g clip-path="url(#cp9)"><g filter="url(#bl2)">
<rect x="294.00" y="386.00" width="25.00" height="10.00" rx="5.00" fill="#1f1e24" fill-opacity="0.9"/>
<rect x="319.00" y="386.00" width="25.00" height="10.00" rx="5.00" fill="#1f1e24" fill-opacity="0.9"/>
<rect x="345.00" y="386.00" width="25.00" height="10.00" rx="5.00" fill="#1f1e24" fill-opacity="0.9"/>
<rect x="371.00" y="386.00" width="25.00" height="10.00" rx="5.00" fill="#1f1e24" fill-opacity="0.9"/>
</g></g>
<rect x="295.80" y="380.20" width="98.60" height="21.10" fill="none" stroke="#0d0d12" stroke-width="1.2"/>
</g>
<text x="308.40" y="295.91" font-size="6.8" text-anchor="middle">0.00</text>
<text x="331.60" y="295.91" font-size="6.8" text-anchor="middle">0.32</text>
<text x="356.40" y="295.91" font-size="6.8" text-anchor="middle">0.52</text>
<text x="383.10" y="295.91" font-size="6.8" text-anchor="middle">0.00</text>
<text x="308.40" y="319.81" font-size="6.8" text-anchor="middle">0.07</text>
<text x="331.60" y="319.81" font-size="6.8" text-anchor="middle">0.53</text>
<text x="356.40" y="319.81" font-size="6.8" text-anchor="middle">0.90</text>
<text x="383.10" y="319.81" font-size="6.8" text-anchor="middle">0.17</text>
<text x="308.40" y="377.61" font-size="6.8" text-anchor="middle">1.00</text>
<text x="331.60" y="377.61" font-size="6.8" text-anchor="middle">3.64</text>
<text x="356.40" y="377.61" font-size="6.8" text-anchor="middle">2.98</text>
<text x="383.10" y="377.61" font-size="6.8" text-anchor="middle">2.20</text>
<text x="291.80" y="281.61" font-size="6.8" text-anchor="end">53</text>
<text x="291.80" y="307.61" font-size="6.8" text-anchor="end">53</text>
<text x="291.80" y="333.91" font-size="6.8" text-anchor="end">90</text>
<text x="291.80" y="352.91" font-size="6.8" text-anchor="end">116</text>
<text x="291.80" y="363.81" font-size="6.8" text-anchor="end">89</text>
<text x="291.80" y="392.81" font-size="6.8" text-anchor="end">42</text>
<text x="398.80" y="280.19" font-size="7.0">p-p53<tspan font-size="4.62" dy="-3.50">Ser15</tspan></text>
<text x="398.80" y="295.49" font-size="7.0">p-p53<tspan font-size="4.62" dy="-3.50">Ser15</tspan><tspan dy="3.50">/β-Actin</tspan></text>
<text x="398.80" y="306.69" font-size="7.0">p53</text>
<text x="398.80" y="319.99" font-size="7.0">p53/β-Actin</text>
<text x="398.80" y="332.99" font-size="7.0">MDM2</text>
<text x="398.80" y="351.69" font-size="7.0">PARP (full length)</text>
<text x="398.80" y="362.49" font-size="7.0">PARP (cleaved)</text>
<text x="398.80" y="377.49" font-size="7.0">Cleaved PARP/PARP</text>
<text x="398.80" y="392.09" font-size="7.0">β-Actin</text>
<text x="283.00" y="410.07" font-size="6.4" textLength="122.6" lengthAdjust="spacingAndGlyphs">(representative example of n = 3 cases)</text>
<text x="8.30" y="448.99" font-size="11.8" font-weight="bold" fill="#000" stroke="#000" stroke-width="0.5">E</text>
<text x="186.00" y="445.55" font-size="8.6" textLength="136.5" lengthAdjust="spacingAndGlyphs">Single-agent cell viability testing</text>
<g>
<rect x="73.00" y="470.50" width="9.53" height="9.55" fill="#dde6ef"/>
<rect x="82.53" y="470.50" width="9.53" height="9.55" fill="#e8eef3"/>
<rect x="92.05" y="470.50" width="9.53" height="9.55" fill="#f5b596"/>
<rect x="101.58" y="470.50" width="9.53" height="9.55" fill="#f3ab8c"/>
<rect x="111.11" y="470.50" width="9.53" height="9.55" fill="#f4b090"/>
<rect x="120.63" y="470.50" width="9.53" height="9.55" fill="#f5b596"/>
<rect x="130.16" y="470.50" width="9.53" height="9.55" fill="#f6b99e"/>
<rect x="139.68" y="470.50" width="9.53" height="9.55" fill="#f4b090"/>
<rect x="149.21" y="470.50" width="9.53" height="9.55" fill="#f5b496"/>
<rect x="158.74" y="470.50" width="9.53" height="9.55" fill="#f2a888"/>
<rect x="168.26" y="470.50" width="9.53" height="9.55" fill="#f2a888"/>
<rect x="177.79" y="470.50" width="9.53" height="9.55" fill="#f5b497"/>
<rect x="187.32" y="470.50" width="9.53" height="9.55" fill="#f9cdb7"/>
<rect x="196.84" y="470.50" width="9.53" height="9.55" fill="#f3a888"/>
<rect x="206.37" y="470.50" width="9.53" height="9.55" fill="#f29e7e"/>
<rect x="215.89" y="470.50" width="9.53" height="9.55" fill="#eef0f2"/>
<rect x="225.42" y="470.50" width="9.53" height="9.55" fill="#bcdaeb"/>
<rect x="234.95" y="470.50" width="9.53" height="9.55" fill="#f6b89c"/>
<rect x="244.47" y="470.50" width="9.53" height="9.55" fill="#d6e6f0"/>
<rect x="254.00" y="470.50" width="9.53" height="9.55" fill="#d6e6f0"/>
<rect x="263.53" y="470.50" width="9.53" height="9.55" fill="#f9dccf"/>
<rect x="273.05" y="470.50" width="9.53" height="9.55" fill="#eef0f2"/>
<rect x="282.58" y="470.50" width="9.53" height="9.55" fill="#e4ecf3"/>
<rect x="292.11" y="470.50" width="9.53" height="9.55" fill="#f4a582"/>
<rect x="301.63" y="470.50" width="9.53" height="9.55" fill="#f6b99e"/>
<rect x="311.16" y="470.50" width="9.53" height="9.55" fill="#fbd9c9"/>
<rect x="320.68" y="470.50" width="9.53" height="9.55" fill="#f9c7b0"/>
<rect x="330.21" y="470.50" width="9.53" height="9.55" fill="#f9c7b0"/>
<rect x="339.74" y="470.50" width="9.53" height="9.55" fill="#f4a888"/>
<rect x="349.26" y="470.50" width="9.53" height="9.55" fill="#eef0f2"/>
<rect x="358.79" y="470.50" width="9.53" height="9.55" fill="#e0ebf2"/>
<rect x="368.32" y="470.50" width="9.53" height="9.55" fill="#eef0f2"/>
<rect x="377.84" y="470.50" width="9.53" height="9.55" fill="#f4a888"/>
<rect x="387.37" y="470.50" width="9.53" height="9.55" fill="#fbd9c9"/>
<rect x="396.89" y="470.50" width="9.53" height="9.55" fill="#f4a888"/>
<rect x="406.42" y="470.50" width="9.53" height="9.55" fill="#f6b99e"/>
<rect x="415.95" y="470.50" width="9.53" height="9.55" fill="#f0a080"/>
<rect x="425.47" y="470.50" width="9.53" height="9.55" fill="#f4a888"/>
<rect x="73.00" y="480.05" width="9.53" height="9.55" fill="#e07a65"/>
<rect x="82.53" y="480.05" width="9.53" height="9.55" fill="#f0a283"/>
<rect x="92.05" y="480.05" width="9.53" height="9.55" fill="#e8836b"/>
<rect x="101.58" y="480.05" width="9.53" height="9.55" fill="#ec8f73"/>
<rect x="111.11" y="480.05" width="9.53" height="9.55" fill="#ee9877"/>
<rect x="120.63" y="480.05" width="9.53" height="9.55" fill="#e07a66"/>
<rect x="130.16" y="480.05" width="9.53" height="9.55" fill="#ee9a7c"/>
<rect x="139.68" y="480.05" width="9.53" height="9.55" fill="#d9605a"/>
<rect x="149.21" y="480.05" width="9.53" height="9.55" fill="#b8192d"/>
<rect x="158.74" y="480.05" width="9.53" height="9.55" fill="#f0a282"/>
<rect x="168.26" y="480.05" width="9.53" height="9.55" fill="#f1a586"/>
<rect x="177.79" y="480.05" width="9.53" height="9.55" fill="#ec9274"/>
<rect x="187.32" y="480.05" width="9.53" height="9.55" fill="#f1a586"/>
<rect x="196.84" y="480.05" width="9.53" height="9.55" fill="#ee9b7c"/>
<rect x="206.37" y="480.05" width="9.53" height="9.55" fill="#ee9878"/>
<rect x="215.89" y="480.05" width="9.53" height="9.55" fill="#e07c63"/>
<rect x="225.42" y="480.05" width="9.53" height="9.55" fill="#ee9878"/>
<rect x="234.95" y="480.05" width="9.53" height="9.55" fill="#f0a080"/>
<rect x="244.47" y="480.05" width="9.53" height="9.55" fill="#f4eeee"/>
<rect x="254.00" y="480.05" width="9.53" height="9.55" fill="#f4a888"/>
<rect x="263.53" y="480.05" width="9.53" height="9.55" fill="#e07060"/>
<rect x="273.05" y="480.05" width="9.53" height="9.55" fill="#ee9070"/>
<rect x="282.58" y="480.05" width="9.53" height="9.55" fill="#f3a282"/>
<rect x="292.11" y="480.05" width="9.53" height="9.55" fill="#d85c52"/>
<rect x="301.63" y="480.05" width="9.53" height="9.55" fill="#d85c50"/>
<rect x="311.16" y="480.05" width="9.53" height="9.55" fill="#e07a62"/>
<rect x="320.68" y="480.05" width="9.53" height="9.55" fill="#f0987a"/>
<rect x="330.21" y="480.05" width="9.53" height="9.55" fill="#f3a888"/>
<rect x="339.74" y="480.05" width="9.53" height="9.55" fill="#e4ecf3"/>
<rect x="349.26" y="480.05" width="9.53" height="9.55" fill="#ec8a70"/>
<rect x="358.79" y="480.05" width="9.53" height="9.55" fill="#e7806a"/>
<rect x="368.32" y="480.05" width="9.53" height="9.55" fill="#f4b396"/>
<rect x="377.84" y="480.05" width="9.53" height="9.55" fill="#d85c50"/>
<rect x="387.37" y="480.05" width="9.53" height="9.55" fill="#f4ab8c"/>
<rect x="396.89" y="480.05" width="9.53" height="9.55" fill="#ec8a70"/>
<rect x="406.42" y="480.05" width="9.53" height="9.55" fill="#f4ab8c"/>
<rect x="415.95" y="480.05" width="9.53" height="9.55" fill="#f4ab8c"/>
<rect x="425.47" y="480.05" width="9.53" height="9.55" fill="#f4ab8c"/>
<rect x="73.00" y="489.60" width="9.53" height="9.55" fill="#fbd8c8"/>
<rect x="82.53" y="489.60" width="9.53" height="9.55" fill="#f2a585"/>
<rect x="92.05" y="489.60" width="9.53" height="9.55" fill="#e06b5c"/>
<rect x="101.58" y="489.60" width="9.53" height="9.55" fill="#fbe1d4"/>
<rect x="111.11" y="489.60" width="9.53" height="9.55" fill="#f6b99d"/>
<rect x="120.63" y="489.60" width="9.53" height="9.55" fill="#f2a486"/>
<rect x="130.16" y="489.60" width="9.53" height="9.55" fill="#f8cbb5"/>
<rect x="139.68" y="489.60" width="9.53" height="9.55" fill="#f5b99e"/>
<rect x="149.21" y="489.60" width="9.53" height="9.55" fill="#f8c8b0"/>
<rect x="158.74" y="489.60" width="9.53" height="9.55" fill="#e37a66"/>
<rect x="168.26" y="489.60" width="9.53" height="9.55" fill="#ee9a7c"/>
<rect x="177.79" y="489.60" width="9.53" height="9.55" fill="#f4eeee"/>
<rect x="187.32" y="489.60" width="9.53" height="9.55" fill="#f4eeee"/>
<rect x="196.84" y="489.60" width="9.53" height="9.55" fill="#f7e0d6"/>
<rect x="206.37" y="489.60" width="9.53" height="9.55" fill="#f7bfa7"/>
<rect x="215.89" y="489.60" width="9.53" height="9.55" fill="#b4d6e8"/>
<rect x="225.42" y="489.60" width="9.53" height="9.55" fill="#dae8f1"/>
<rect x="234.95" y="489.60" width="9.53" height="9.55" fill="#2166ac"/>
<rect x="244.47" y="489.60" width="9.53" height="9.55" fill="#2166ac"/>
<rect x="254.00" y="489.60" width="9.53" height="9.55" fill="#2166ac"/>
<rect x="263.53" y="489.60" width="9.53" height="9.55" fill="#2166ac"/>
<rect x="273.05" y="489.60" width="9.53" height="9.55" fill="#2166ac"/>
<rect x="282.58" y="489.60" width="9.53" height="9.55" fill="#2166ac"/>
<rect x="292.11" y="489.60" width="9.53" height="9.55" fill="#2166ac"/>
<rect x="301.63" y="489.60" width="9.53" height="9.55" fill="#2368ae"/>
<rect x="311.16" y="489.60" width="9.53" height="9.55" fill="#2166ac"/>
<rect x="320.68" y="489.60" width="9.53" height="9.55" fill="#2166ac"/>
<rect x="330.21" y="489.60" width="9.53" height="9.55" fill="#2166ac"/>
<rect x="339.74" y="489.60" width="9.53" height="9.55" fill="#2166ac"/>
<rect x="349.26" y="489.60" width="9.53" height="9.55" fill="#2166ac"/>
<rect x="358.79" y="489.60" width="9.53" height="9.55" fill="#2166ac"/>
<rect x="368.32" y="489.60" width="9.53" height="9.55" fill="#2166ac"/>
<rect x="377.84" y="489.60" width="9.53" height="9.55" fill="#2166ac"/>
<rect x="387.37" y="489.60" width="9.53" height="9.55" fill="#2166ac"/>
<rect x="396.89" y="489.60" width="9.53" height="9.55" fill="#2166ac"/>
<rect x="406.42" y="489.60" width="9.53" height="9.55" fill="#2166ac"/>
<rect x="415.95" y="489.60" width="9.53" height="9.55" fill="#2166ac"/>
<rect x="425.47" y="489.60" width="9.53" height="9.55" fill="#2166ac"/>
<rect x="73.00" y="499.15" width="9.53" height="9.55" fill="#eaeef4"/>
<rect x="82.53" y="499.15" width="9.53" height="9.55" fill="#f5ece8"/>
<rect x="92.05" y="499.15" width="9.53" height="9.55" fill="#fbe3d6"/>
<rect x="101.58" y="499.15" width="9.53" height="9.55" fill="#f0f0f2"/>
<rect x="111.11" y="499.15" width="9.53" height="9.55" fill="#e8eef4"/>
<rect x="120.63" y="499.15" width="9.53" height="9.55" fill="#f8e8e2"/>
<rect x="130.16" y="499.15" width="9.53" height="9.55" fill="#e4ecf3"/>
<rect x="139.68" y="499.15" width="9.53" height="9.55" fill="#f3ecea"/>
<rect x="149.21" y="499.15" width="9.53" height="9.55" fill="#eff0f2"/>
<rect x="158.74" y="499.15" width="9.53" height="9.55" fill="#fad6c6"/>
<rect x="168.26" y="499.15" width="9.53" height="9.55" fill="#f9dccf"/>
<rect x="177.79" y="499.15" width="9.53" height="9.55" fill="#b0d4e8"/>
<rect x="187.32" y="499.15" width="9.53" height="9.55" fill="#c6e0ee"/>
<rect x="196.84" y="499.15" width="9.53" height="9.55" fill="#c2dded"/>
<rect x="206.37" y="499.15" width="9.53" height="9.55" fill="#dae8f1"/>
<rect x="215.89" y="499.15" width="9.53" height="9.55" fill="#5a9ecb"/>
<rect x="225.42" y="499.15" width="9.53" height="9.55" fill="#d8e7f0"/>
<rect x="234.95" y="499.15" width="9.53" height="9.55" fill="#2166ac"/>
<rect x="244.47" y="499.15" width="9.53" height="9.55" fill="#2166ac"/>
<rect x="254.00" y="499.15" width="9.53" height="9.55" fill="#2166ac"/>
<rect x="263.53" y="499.15" width="9.53" height="9.55" fill="#4a91c5"/>
<rect x="273.05" y="499.15" width="9.53" height="9.55" fill="#2166ac"/>
<rect x="282.58" y="499.15" width="9.53" height="9.55" fill="#3a82be"/>
<rect x="292.11" y="499.15" width="9.53" height="9.55" fill="#4a91c5"/>
<rect x="301.63" y="499.15" width="9.53" height="9.55" fill="#3a82be"/>
<rect x="311.16" y="499.15" width="9.53" height="9.55" fill="#2166ac"/>
<rect x="320.68" y="499.15" width="9.53" height="9.55" fill="#3c85bf"/>
<rect x="330.21" y="499.15" width="9.53" height="9.55" fill="#2a70b3"/>
<rect x="339.74" y="499.15" width="9.53" height="9.55" fill="#3a82be"/>
<rect x="349.26" y="499.15" width="9.53" height="9.55" fill="#4a91c5"/>
<rect x="358.79" y="499.15" width="9.53" height="9.55" fill="#2166ac"/>
<rect x="368.32" y="499.15" width="9.53" height="9.55" fill="#3a82be"/>
<rect x="377.84" y="499.15" width="9.53" height="9.55" fill="#2a70b3"/>
<rect x="387.37" y="499.15" width="9.53" height="9.55" fill="#5a9ecb"/>
<rect x="396.89" y="499.15" width="9.53" height="9.55" fill="#5a9ecb"/>
<rect x="406.42" y="499.15" width="9.53" height="9.55" fill="#2166ac"/>
<rect x="415.95" y="499.15" width="9.53" height="9.55" fill="#2166ac"/>
<rect x="425.47" y="499.15" width="9.53" height="9.55" fill="#2a70b3"/>
<rect x="73.00" y="508.70" width="9.53" height="9.55" fill="#eaeef4"/>
<rect x="82.53" y="508.70" width="9.53" height="9.55" fill="#f8e3da"/>
<rect x="92.05" y="508.70" width="9.53" height="9.55" fill="#f8c8b2"/>
<rect x="101.58" y="508.70" width="9.53" height="9.55" fill="#f2eeef"/>
<rect x="111.11" y="508.70" width="9.53" height="9.55" fill="#ecf0f4"/>
<rect x="120.63" y="508.70" width="9.53" height="9.55" fill="#f8e6de"/>
<rect x="130.16" y="508.70" width="9.53" height="9.55" fill="#eef0f3"/>
<rect x="139.68" y="508.70" width="9.53" height="9.55" fill="#f7e4dc"/>
<rect x="149.21" y="508.70" width="9.53" height="9.55" fill="#f2eff0"/>
<rect x="158.74" y="508.70" width="9.53" height="9.55" fill="#f9dccf"/>
<rect x="168.26" y="508.70" width="9.53" height="9.55" fill="#fbe5da"/>
<rect x="177.79" y="508.70" width="9.53" height="9.55" fill="#bfdbeb"/>
<rect x="187.32" y="508.70" width="9.53" height="9.55" fill="#d8e8f1"/>
<rect x="196.84" y="508.70" width="9.53" height="9.55" fill="#e4edf3"/>
<rect x="206.37" y="508.70" width="9.53" height="9.55" fill="#d6e6f0"/>
<rect x="215.89" y="508.70" width="9.53" height="9.55" fill="#b0d4e8"/>
<rect x="225.42" y="508.70" width="9.53" height="9.55" fill="#d8e7f0"/>
<rect x="234.95" y="508.70" width="9.53" height="9.55" fill="#2166ac"/>
<rect x="244.47" y="508.70" width="9.53" height="9.55" fill="#2166ac"/>
<rect x="254.00" y="508.70" width="9.53" height="9.55" fill="#2166ac"/>
<rect x="263.53" y="508.70" width="9.53" height="9.55" fill="#2166ac"/>
<rect x="273.05" y="508.70" width="9.53" height="9.55" fill="#2166ac"/>
<rect x="282.58" y="508.70" width="9.53" height="9.55" fill="#2166ac"/>
<rect x="292.11" y="508.70" width="9.53" height="9.55" fill="#2166ac"/>
<rect x="301.63" y="508.70" width="9.53" height="9.55" fill="#2a70b3"/>
<rect x="311.16" y="508.70" width="9.53" height="9.55" fill="#2166ac"/>
<rect x="320.68" y="508.70" width="9.53" height="9.55" fill="#2166ac"/>
<rect x="330.21" y="508.70" width="9.53" height="9.55" fill="#2166ac"/>
<rect x="339.74" y="508.70" width="9.53" height="9.55" fill="#2a70b3"/>
<rect x="349.26" y="508.70" width="9.53" height="9.55" fill="#2166ac"/>
<rect x="358.79" y="508.70" width="9.53" height="9.55" fill="#2166ac"/>
<rect x="368.32" y="508.70" width="9.53" height="9.55" fill="#2166ac"/>
<rect x="377.84" y="508.70" width="9.53" height="9.55" fill="#2166ac"/>
<rect x="387.37" y="508.70" width="9.53" height="9.55" fill="#2166ac"/>
<rect x="396.89" y="508.70" width="9.53" height="9.55" fill="#2166ac"/>
<rect x="406.42" y="508.70" width="9.53" height="9.55" fill="#2166ac"/>
<rect x="415.95" y="508.70" width="9.53" height="9.55" fill="#2166ac"/>
<rect x="425.47" y="508.70" width="9.53" height="9.55" fill="#2166ac"/>
<rect x="73.00" y="518.25" width="9.53" height="9.55" fill="#f3eeee"/>
<rect x="82.53" y="518.25" width="9.53" height="9.55" fill="#fbd5c5"/>
<rect x="92.05" y="518.25" width="9.53" height="9.55" fill="#e8806a"/>
<rect x="101.58" y="518.25" width="9.53" height="9.55" fill="#fce4d8"/>
<rect x="111.11" y="518.25" width="9.53" height="9.55" fill="#fbd6c5"/>
<rect x="120.63" y="518.25" width="9.53" height="9.55" fill="#f7b89c"/>
<rect x="130.16" y="518.25" width="9.53" height="9.55" fill="#fbdfd2"/>
<rect x="139.68" y="518.25" width="9.53" height="9.55" fill="#f9d5c4"/>
<rect x="149.21" y="518.25" width="9.53" height="9.55" fill="#f8dfd4"/>
<rect x="158.74" y="518.25" width="9.53" height="9.55" fill="#f6b59a"/>
<rect x="168.26" y="518.25" width="9.53" height="9.55" fill="#f9cbb4"/>
<rect x="177.79" y="518.25" width="9.53" height="9.55" fill="#c6e0ee"/>
<rect x="187.32" y="518.25" width="9.53" height="9.55" fill="#bcdaeb"/>
<rect x="196.84" y="518.25" width="9.53" height="9.55" fill="#bcdaeb"/>
<rect x="206.37" y="518.25" width="9.53" height="9.55" fill="#f2eff0"/>
<rect x="215.89" y="518.25" width="9.53" height="9.55" fill="#6aa8d0"/>
<rect x="225.42" y="518.25" width="9.53" height="9.55" fill="#d8e7f0"/>
<rect x="234.95" y="518.25" width="9.53" height="9.55" fill="#2166ac"/>
<rect x="244.47" y="518.25" width="9.53" height="9.55" fill="#2166ac"/>
<rect x="254.00" y="518.25" width="9.53" height="9.55" fill="#2166ac"/>
<rect x="263.53" y="518.25" width="9.53" height="9.55" fill="#2166ac"/>
<rect x="273.05" y="518.25" width="9.53" height="9.55" fill="#2166ac"/>
<rect x="282.58" y="518.25" width="9.53" height="9.55" fill="#2166ac"/>
<rect x="292.11" y="518.25" width="9.53" height="9.55" fill="#2166ac"/>
<rect x="301.63" y="518.25" width="9.53" height="9.55" fill="#2166ac"/>
<rect x="311.16" y="518.25" width="9.53" height="9.55" fill="#2166ac"/>
<rect x="320.68" y="518.25" width="9.53" height="9.55" fill="#2166ac"/>
<rect x="330.21" y="518.25" width="9.53" height="9.55" fill="#2166ac"/>
<rect x="339.74" y="518.25" width="9.53" height="9.55" fill="#2166ac"/>
<rect x="349.26" y="518.25" width="9.53" height="9.55" fill="#2166ac"/>
<rect x="358.79" y="518.25" width="9.53" height="9.55" fill="#2166ac"/>
<rect x="368.32" y="518.25" width="9.53" height="9.55" fill="#3a82be"/>
<rect x="377.84" y="518.25" width="9.53" height="9.55" fill="#2166ac"/>
<rect x="387.37" y="518.25" width="9.53" height="9.55" fill="#2a70b3"/>
<rect x="396.89" y="518.25" width="9.53" height="9.55" fill="#2166ac"/>
<rect x="406.42" y="518.25" width="9.53" height="9.55" fill="#2166ac"/>
<rect x="415.95" y="518.25" width="9.53" height="9.55" fill="#2166ac"/>
<rect x="425.47" y="518.25" width="9.53" height="9.55" fill="#2166ac"/>
<rect x="73.00" y="527.80" width="9.53" height="9.55" fill="#2468b0"/>
<rect x="82.53" y="527.80" width="9.53" height="9.55" fill="#2468b0"/>
<rect x="92.05" y="527.80" width="9.53" height="9.55" fill="#2468b0"/>
<rect x="101.58" y="527.80" width="9.53" height="9.55" fill="#2468b0"/>
<rect x="111.11" y="527.80" width="9.53" height="9.55" fill="#2468b0"/>
<rect x="120.63" y="527.80" width="9.53" height="9.55" fill="#a8cfe4"/>
<rect x="130.16" y="527.80" width="9.53" height="9.55" fill="#6aa8d0"/>
<rect x="139.68" y="527.80" width="9.53" height="9.55" fill="#5a9ecb"/>
<rect x="149.21" y="527.80" width="9.53" height="9.55" fill="#3c85bf"/>
<rect x="158.74" y="527.80" width="9.53" height="9.55" fill="#2468b0"/>
<rect x="168.26" y="527.80" width="9.53" height="9.55" fill="#2468b0"/>
<rect x="177.79" y="527.80" width="9.53" height="9.55" fill="#3880bc"/>
<rect x="187.32" y="527.80" width="9.53" height="9.55" fill="#2166ac"/>
<rect x="196.84" y="527.80" width="9.53" height="9.55" fill="#2a70b3"/>
<rect x="206.37" y="527.80" width="9.53" height="9.55" fill="#2468b0"/>
<rect x="215.89" y="527.80" width="9.53" height="9.55" fill="#2a70b3"/>
<rect x="225.42" y="527.80" width="9.53" height="9.55" fill="#6aa8d0"/>
<rect x="234.95" y="527.80" width="9.53" height="9.55" fill="#3a82be"/>
<rect x="244.47" y="527.80" width="9.53" height="9.55" fill="#2a70b3"/>
<rect x="254.00" y="527.80" width="9.53" height="9.55" fill="#2166ac"/>
<rect x="263.53" y="527.80" width="9.53" height="9.55" fill="#2166ac"/>
<rect x="273.05" y="527.80" width="9.53" height="9.55" fill="#2166ac"/>
<rect x="282.58" y="527.80" width="9.53" height="9.55" fill="#2a70b3"/>
<rect x="292.11" y="527.80" width="9.53" height="9.55" fill="#2a70b3"/>
<rect x="301.63" y="527.80" width="9.53" height="9.55" fill="#5a9ecb"/>
<rect x="311.16" y="527.80" width="9.53" height="9.55" fill="#2166ac"/>
<rect x="320.68" y="527.80" width="9.53" height="9.55" fill="#4a91c5"/>
<rect x="330.21" y="527.80" width="9.53" height="9.55" fill="#2166ac"/>
<rect x="339.74" y="527.80" width="9.53" height="9.55" fill="#2a70b3"/>
<rect x="349.26" y="527.80" width="9.53" height="9.55" fill="#2a70b3"/>
<rect x="358.79" y="527.80" width="9.53" height="9.55" fill="#2166ac"/>
<rect x="368.32" y="527.80" width="9.53" height="9.55" fill="#2a70b3"/>
<rect x="377.84" y="527.80" width="9.53" height="9.55" fill="#b8d8ea"/>
<rect x="387.37" y="527.80" width="9.53" height="9.55" fill="#2a70b3"/>
<rect x="396.89" y="527.80" width="9.53" height="9.55" fill="#2166ac"/>
<rect x="406.42" y="527.80" width="9.53" height="9.55" fill="#3a82be"/>
<rect x="415.95" y="527.80" width="9.53" height="9.55" fill="#2166ac"/>
<rect x="425.47" y="527.80" width="9.53" height="9.55" fill="#2a70b3"/>
<rect x="73.00" y="537.35" width="9.53" height="9.55" fill="#5a9dcc"/>
<rect x="82.53" y="537.35" width="9.53" height="9.55" fill="#2f78b8"/>
<rect x="92.05" y="537.35" width="9.53" height="9.55" fill="#4d93c6"/>
<rect x="101.58" y="537.35" width="9.53" height="9.55" fill="#4a91c5"/>
<rect x="111.11" y="537.35" width="9.53" height="9.55" fill="#2368b0"/>
<rect x="120.63" y="537.35" width="9.53" height="9.55" fill="#2164ad"/>
<rect x="130.16" y="537.35" width="9.53" height="9.55" fill="#4c93c6"/>
<rect x="139.68" y="537.35" width="9.53" height="9.55" fill="#3a84be"/>
<rect x="149.21" y="537.35" width="9.53" height="9.55" fill="#2368ae"/>
<rect x="158.74" y="537.35" width="9.53" height="9.55" fill="#2368ae"/>
<rect x="168.26" y="537.35" width="9.53" height="9.55" fill="#2368ae"/>
<rect x="177.79" y="537.35" width="9.53" height="9.55" fill="#2368ae"/>
<rect x="187.32" y="537.35" width="9.53" height="9.55" fill="#2a70b3"/>
<rect x="196.84" y="537.35" width="9.53" height="9.55" fill="#2368ae"/>
<rect x="206.37" y="537.35" width="9.53" height="9.55" fill="#2368ae"/>
<rect x="215.89" y="537.35" width="9.53" height="9.55" fill="#2368ae"/>
<rect x="225.42" y="537.35" width="9.53" height="9.55" fill="#3a82be"/>
<rect x="234.95" y="537.35" width="9.53" height="9.55" fill="#2166ac"/>
<rect x="244.47" y="537.35" width="9.53" height="9.55" fill="#2166ac"/>
<rect x="254.00" y="537.35" width="9.53" height="9.55" fill="#2166ac"/>
<rect x="263.53" y="537.35" width="9.53" height="9.55" fill="#2166ac"/>
<rect x="273.05" y="537.35" width="9.53" height="9.55" fill="#2166ac"/>
<rect x="282.58" y="537.35" width="9.53" height="9.55" fill="#2166ac"/>
<rect x="292.11" y="537.35" width="9.53" height="9.55" fill="#2a70b3"/>
<rect x="301.63" y="537.35" width="9.53" height="9.55" fill="#2a70b3"/>
<rect x="311.16" y="537.35" width="9.53" height="9.55" fill="#2166ac"/>
<rect x="320.68" y="537.35" width="9.53" height="9.55" fill="#2a70b3"/>
<rect x="330.21" y="537.35" width="9.53" height="9.55" fill="#2166ac"/>
<rect x="339.74" y="537.35" width="9.53" height="9.55" fill="#2166ac"/>
<rect x="349.26" y="537.35" width="9.53" height="9.55" fill="#2a70b3"/>
<rect x="358.79" y="537.35" width="9.53" height="9.55" fill="#2166ac"/>
<rect x="368.32" y="537.35" width="9.53" height="9.55" fill="#2a70b3"/>
<rect x="377.84" y="537.35" width="9.53" height="9.55" fill="#2166ac"/>
<rect x="387.37" y="537.35" width="9.53" height="9.55" fill="#2a70b3"/>
<rect x="396.89" y="537.35" width="9.53" height="9.55" fill="#2166ac"/>
<rect x="406.42" y="537.35" width="9.53" height="9.55" fill="#88bedd"/>
<rect x="415.95" y="537.35" width="9.53" height="9.55" fill="#2166ac"/>
<rect x="425.47" y="537.35" width="9.53" height="9.55" fill="#2166ac"/>
<rect x="73.00" y="546.90" width="9.53" height="9.55" fill="#3a80bc"/>
<rect x="82.53" y="546.90" width="9.53" height="9.55" fill="#5c9fcc"/>
<rect x="92.05" y="546.90" width="9.53" height="9.55" fill="#7bb5d8"/>
<rect x="101.58" y="546.90" width="9.53" height="9.55" fill="#4a92c5"/>
<rect x="111.11" y="546.90" width="9.53" height="9.55" fill="#5ea1cd"/>
<rect x="120.63" y="546.90" width="9.53" height="9.55" fill="#2266ae"/>
<rect x="130.16" y="546.90" width="9.53" height="9.55" fill="#6eabd3"/>
<rect x="139.68" y="546.90" width="9.53" height="9.55" fill="#8cc0dd"/>
<rect x="149.21" y="546.90" width="9.53" height="9.55" fill="#2166ac"/>
<rect x="158.74" y="546.90" width="9.53" height="9.55" fill="#2166ac"/>
<rect x="168.26" y="546.90" width="9.53" height="9.55" fill="#2166ac"/>
<rect x="177.79" y="546.90" width="9.53" height="9.55" fill="#2166ac"/>
<rect x="187.32" y="546.90" width="9.53" height="9.55" fill="#2166ac"/>
<rect x="196.84" y="546.90" width="9.53" height="9.55" fill="#2166ac"/>
<rect x="206.37" y="546.90" width="9.53" height="9.55" fill="#2166ac"/>
<rect x="215.89" y="546.90" width="9.53" height="9.55" fill="#2166ac"/>
<rect x="225.42" y="546.90" width="9.53" height="9.55" fill="#5a9ecb"/>
<rect x="234.95" y="546.90" width="9.53" height="9.55" fill="#2166ac"/>
<rect x="244.47" y="546.90" width="9.53" height="9.55" fill="#2166ac"/>
<rect x="254.00" y="546.90" width="9.53" height="9.55" fill="#2166ac"/>
<rect x="263.53" y="546.90" width="9.53" height="9.55" fill="#5a9ecb"/>
<rect x="273.05" y="546.90" width="9.53" height="9.55" fill="#4a91c5"/>
<rect x="282.58" y="546.90" width="9.53" height="9.55" fill="#9ccae2"/>
<rect x="292.11" y="546.90" width="9.53" height="9.55" fill="#2a70b3"/>
<rect x="301.63" y="546.90" width="9.53" height="9.55" fill="#2a70b3"/>
<rect x="311.16" y="546.90" width="9.53" height="9.55" fill="#4a91c5"/>
<rect x="320.68" y="546.90" width="9.53" height="9.55" fill="#3a82be"/>
<rect x="330.21" y="546.90" width="9.53" height="9.55" fill="#4a91c5"/>
<rect x="339.74" y="546.90" width="9.53" height="9.55" fill="#4a91c5"/>
<rect x="349.26" y="546.90" width="9.53" height="9.55" fill="#2166ac"/>
<rect x="358.79" y="546.90" width="9.53" height="9.55" fill="#2a70b3"/>
<rect x="368.32" y="546.90" width="9.53" height="9.55" fill="#3a82be"/>
<rect x="377.84" y="546.90" width="9.53" height="9.55" fill="#3a82be"/>
<rect x="387.37" y="546.90" width="9.53" height="9.55" fill="#2a70b3"/>
<rect x="396.89" y="546.90" width="9.53" height="9.55" fill="#4a91c5"/>
<rect x="406.42" y="546.90" width="9.53" height="9.55" fill="#4a91c5"/>
<rect x="415.95" y="546.90" width="9.53" height="9.55" fill="#2166ac"/>
<rect x="425.47" y="546.90" width="9.53" height="9.55" fill="#2a70b3"/>
<rect x="73.00" y="556.45" width="9.53" height="9.55" fill="#3279b8"/>
<rect x="82.53" y="556.45" width="9.53" height="9.55" fill="#2a70b3"/>
<rect x="92.05" y="556.45" width="9.53" height="9.55" fill="#3f87c0"/>
<rect x="101.58" y="556.45" width="9.53" height="9.55" fill="#3c85bf"/>
<rect x="111.11" y="556.45" width="9.53" height="9.55" fill="#2467b0"/>
<rect x="120.63" y="556.45" width="9.53" height="9.55" fill="#f4eeee"/>
<rect x="130.16" y="556.45" width="9.53" height="9.55" fill="#fbe5da"/>
<rect x="139.68" y="556.45" width="9.53" height="9.55" fill="#fbe5da"/>
<rect x="149.21" y="556.45" width="9.53" height="9.55" fill="#f9e4da"/>
<rect x="158.74" y="556.45" width="9.53" height="9.55" fill="#e4edf3"/>
<rect x="168.26" y="556.45" width="9.53" height="9.55" fill="#84bcdc"/>
<rect x="177.79" y="556.45" width="9.53" height="9.55" fill="#eceff2"/>
<rect x="187.32" y="556.45" width="9.53" height="9.55" fill="#e4ecf3"/>
<rect x="196.84" y="556.45" width="9.53" height="9.55" fill="#3c85bf"/>
<rect x="206.37" y="556.45" width="9.53" height="9.55" fill="#4a91c5"/>
<rect x="215.89" y="556.45" width="9.53" height="9.55" fill="#3a82be"/>
<rect x="225.42" y="556.45" width="9.53" height="9.55" fill="#a8d0e5"/>
<rect x="234.95" y="556.45" width="9.53" height="9.55" fill="#f9e2d8"/>
<rect x="244.47" y="556.45" width="9.53" height="9.55" fill="#eceff2"/>
<rect x="254.00" y="556.45" width="9.53" height="9.55" fill="#d0e4ef"/>
<rect x="263.53" y="556.45" width="9.53" height="9.55" fill="#2166ac"/>
<rect x="273.05" y="556.45" width="9.53" height="9.55" fill="#2a70b3"/>
<rect x="282.58" y="556.45" width="9.53" height="9.55" fill="#2a70b3"/>
<rect x="292.11" y="556.45" width="9.53" height="9.55" fill="#4a91c5"/>
<rect x="301.63" y="556.45" width="9.53" height="9.55" fill="#5a9ecb"/>
<rect x="311.16" y="556.45" width="9.53" height="9.55" fill="#9ccae2"/>
<rect x="320.68" y="556.45" width="9.53" height="9.55" fill="#2a70b3"/>
<rect x="330.21" y="556.45" width="9.53" height="9.55" fill="#3a82be"/>
<rect x="339.74" y="556.45" width="9.53" height="9.55" fill="#3a82be"/>
<rect x="349.26" y="556.45" width="9.53" height="9.55" fill="#7fb8da"/>
<rect x="358.79" y="556.45" width="9.53" height="9.55" fill="#2166ac"/>
<rect x="368.32" y="556.45" width="9.53" height="9.55" fill="#2a70b3"/>
<rect x="377.84" y="556.45" width="9.53" height="9.55" fill="#2166ac"/>
<rect x="387.37" y="556.45" width="9.53" height="9.55" fill="#2a70b3"/>
<rect x="396.89" y="556.45" width="9.53" height="9.55" fill="#2a70b3"/>
<rect x="406.42" y="556.45" width="9.53" height="9.55" fill="#2166ac"/>
<rect x="415.95" y="556.45" width="9.53" height="9.55" fill="#2a70b3"/>
<rect x="425.47" y="556.45" width="9.53" height="9.55" fill="#4a91c5"/>
<rect x="73.00" y="566.00" width="9.53" height="9.55" fill="#f3eef0"/>
<rect x="82.53" y="566.00" width="9.53" height="9.55" fill="#f8c3ad"/>
<rect x="92.05" y="566.00" width="9.53" height="9.55" fill="#d0e2ee"/>
<rect x="101.58" y="566.00" width="9.53" height="9.55" fill="#78b3d7"/>
<rect x="111.11" y="566.00" width="9.53" height="9.55" fill="#4a92c5"/>
<rect x="120.63" y="566.00" width="9.53" height="9.55" fill="#88bedd"/>
<rect x="130.16" y="566.00" width="9.53" height="9.55" fill="#6eaad2"/>
<rect x="139.68" y="566.00" width="9.53" height="9.55" fill="#84bcdc"/>
<rect x="149.21" y="566.00" width="9.53" height="9.55" fill="#5a9ecb"/>
<rect x="158.74" y="566.00" width="9.53" height="9.55" fill="#4a91c5"/>
<rect x="168.26" y="566.00" width="9.53" height="9.55" fill="#3a83bd"/>
<rect x="177.79" y="566.00" width="9.53" height="9.55" fill="#4a91c5"/>
<rect x="187.32" y="566.00" width="9.53" height="9.55" fill="#3a83bd"/>
<rect x="196.84" y="566.00" width="9.53" height="9.55" fill="#4a91c5"/>
<rect x="206.37" y="566.00" width="9.53" height="9.55" fill="#3a83bd"/>
<rect x="215.89" y="566.00" width="9.53" height="9.55" fill="#2f78b8"/>
<rect x="225.42" y="566.00" width="9.53" height="9.55" fill="#5a9ecb"/>
<rect x="234.95" y="566.00" width="9.53" height="9.55" fill="#4a91c5"/>
<rect x="244.47" y="566.00" width="9.53" height="9.55" fill="#5a9ecb"/>
<rect x="254.00" y="566.00" width="9.53" height="9.55" fill="#4a91c5"/>
<rect x="263.53" y="566.00" width="9.53" height="9.55" fill="#f6e9e4"/>
<rect x="273.05" y="566.00" width="9.53" height="9.55" fill="#e4ecf3"/>
<rect x="282.58" y="566.00" width="9.53" height="9.55" fill="#e0ebf2"/>
<rect x="292.11" y="566.00" width="9.53" height="9.55" fill="#a8d0e5"/>
<rect x="301.63" y="566.00" width="9.53" height="9.55" fill="#4a91c5"/>
<rect x="311.16" y="566.00" width="9.53" height="9.55" fill="#5a9ecb"/>
<rect x="320.68" y="566.00" width="9.53" height="9.55" fill="#7fb8da"/>
<rect x="330.21" y="566.00" width="9.53" height="9.55" fill="#6aa8d0"/>
<rect x="339.74" y="566.00" width="9.53" height="9.55" fill="#5a9ecb"/>
<rect x="349.26" y="566.00" width="9.53" height="9.55" fill="#4a91c5"/>
<rect x="358.79" y="566.00" width="9.53" height="9.55" fill="#4a91c5"/>
<rect x="368.32" y="566.00" width="9.53" height="9.55" fill="#5a9ecb"/>
<rect x="377.84" y="566.00" width="9.53" height="9.55" fill="#2a70b3"/>
<rect x="387.37" y="566.00" width="9.53" height="9.55" fill="#4a91c5"/>
<rect x="396.89" y="566.00" width="9.53" height="9.55" fill="#5a9ecb"/>
<rect x="406.42" y="566.00" width="9.53" height="9.55" fill="#5a9ecb"/>
<rect x="415.95" y="566.00" width="9.53" height="9.55" fill="#4a91c5"/>
<rect x="425.47" y="566.00" width="9.53" height="9.55" fill="#5a9ecb"/>
<rect x="73.00" y="575.55" width="9.53" height="9.55" fill="#eceff2"/>
<rect x="82.53" y="575.55" width="9.53" height="9.55" fill="#bad8ea"/>
<rect x="92.05" y="575.55" width="9.53" height="9.55" fill="#f4ebe9"/>
<rect x="101.58" y="575.55" width="9.53" height="9.55" fill="#eceff3"/>
<rect x="111.11" y="575.55" width="9.53" height="9.55" fill="#9ecbe2"/>
<rect x="120.63" y="575.55" width="9.53" height="9.55" fill="#dae8f1"/>
<rect x="130.16" y="575.55" width="9.53" height="9.55" fill="#e4ecf2"/>
<rect x="139.68" y="575.55" width="9.53" height="9.55" fill="#dbe8f1"/>
<rect x="149.21" y="575.55" width="9.53" height="9.55" fill="#3c85bf"/>
<rect x="158.74" y="575.55" width="9.53" height="9.55" fill="#7fb8da"/>
<rect x="168.26" y="575.55" width="9.53" height="9.55" fill="#3c85bf"/>
<rect x="177.79" y="575.55" width="9.53" height="9.55" fill="#4a91c5"/>
<rect x="187.32" y="575.55" width="9.53" height="9.55" fill="#2f78b8"/>
<rect x="196.84" y="575.55" width="9.53" height="9.55" fill="#4a91c5"/>
<rect x="206.37" y="575.55" width="9.53" height="9.55" fill="#3c85bf"/>
<rect x="215.89" y="575.55" width="9.53" height="9.55" fill="#2366ae"/>
<rect x="225.42" y="575.55" width="9.53" height="9.55" fill="#a8d0e5"/>
<rect x="234.95" y="575.55" width="9.53" height="9.55" fill="#c6e0ee"/>
<rect x="244.47" y="575.55" width="9.53" height="9.55" fill="#a8d0e5"/>
<rect x="254.00" y="575.55" width="9.53" height="9.55" fill="#a8d0e5"/>
<rect x="263.53" y="575.55" width="9.53" height="9.55" fill="#c6e0ee"/>
<rect x="273.05" y="575.55" width="9.53" height="9.55" fill="#4a91c5"/>
<rect x="282.58" y="575.55" width="9.53" height="9.55" fill="#a0cce3"/>
<rect x="292.11" y="575.55" width="9.53" height="9.55" fill="#b8d8ea"/>
<rect x="301.63" y="575.55" width="9.53" height="9.55" fill="#bcdaeb"/>
<rect x="311.16" y="575.55" width="9.53" height="9.55" fill="#f4eeee"/>
<rect x="320.68" y="575.55" width="9.53" height="9.55" fill="#eceff2"/>
<rect x="330.21" y="575.55" width="9.53" height="9.55" fill="#bcdaeb"/>
<rect x="339.74" y="575.55" width="9.53" height="9.55" fill="#9ccae2"/>
<rect x="349.26" y="575.55" width="9.53" height="9.55" fill="#3a82be"/>
<rect x="358.79" y="575.55" width="9.53" height="9.55" fill="#3a82be"/>
<rect x="368.32" y="575.55" width="9.53" height="9.55" fill="#5a9ecb"/>
<rect x="377.84" y="575.55" width="9.53" height="9.55" fill="#5a9ecb"/>
<rect x="387.37" y="575.55" width="9.53" height="9.55" fill="#5a9ecb"/>
<rect x="396.89" y="575.55" width="9.53" height="9.55" fill="#3a82be"/>
<rect x="406.42" y="575.55" width="9.53" height="9.55" fill="#7fb8da"/>
<rect x="415.95" y="575.55" width="9.53" height="9.55" fill="#9ccae2"/>
<rect x="425.47" y="575.55" width="9.53" height="9.55" fill="#4a91c5"/>
</g>
<path d="M82.53 470.50V585.10 M92.05 470.50V585.10 M101.58 470.50V585.10 M111.11 470.50V585.10 M120.63 470.50V585.10 M130.16 470.50V585.10 M139.68 470.50V585.10 M149.21 470.50V585.10 M158.74 470.50V585.10 M168.26 470.50V585.10 M177.79 470.50V585.10 M187.32 470.50V585.10 M196.84 470.50V585.10 M206.37 470.50V585.10 M215.89 470.50V585.10 M225.42 470.50V585.10 M234.95 470.50V585.10 M244.47 470.50V585.10 M254.00 470.50V585.10 M263.53 470.50V585.10 M273.05 470.50V585.10 M282.58 470.50V585.10 M292.11 470.50V585.10 M301.63 470.50V585.10 M311.16 470.50V585.10 M320.68 470.50V585.10 M330.21 470.50V585.10 M339.74 470.50V585.10 M349.26 470.50V585.10 M358.79 470.50V585.10 M368.32 470.50V585.10 M377.84 470.50V585.10 M387.37 470.50V585.10 M396.89 470.50V585.10 M406.42 470.50V585.10 M415.95 470.50V585.10 M425.47 470.50V585.10 M73.00 480.05H435.00 M73.00 489.60H435.00 M73.00 499.15H435.00 M73.00 508.70H435.00 M73.00 518.25H435.00 M73.00 527.80H435.00 M73.00 537.35H435.00 M73.00 546.90H435.00 M73.00 556.45H435.00 M73.00 566.00H435.00 M73.00 575.55H435.00" stroke="#ffffff" stroke-opacity="0.5" stroke-width="0.75" fill="none"/>
<rect x="73.00" y="592.50" width="9.53" height="7.00" fill="#d3d6de"/>
<rect x="73.00" y="600.80" width="9.53" height="7.30" fill="#f9a55b"/>
<rect x="82.53" y="592.50" width="9.53" height="7.00" fill="#d3d6de"/>
<rect x="82.53" y="600.80" width="9.53" height="7.30" fill="#f9a55b"/>
<rect x="92.05" y="592.50" width="9.53" height="7.00" fill="#d3d6de"/>
<rect x="92.05" y="600.80" width="9.53" height="7.30" fill="#f9a55b"/>
<rect x="101.58" y="592.50" width="9.53" height="7.00" fill="#d3d6de"/>
<rect x="101.58" y="600.80" width="9.53" height="7.30" fill="#f9a55b"/>
<rect x="111.11" y="592.50" width="9.53" height="7.00" fill="#d3d6de"/>
<rect x="111.11" y="600.80" width="9.53" height="7.30" fill="#5b5e6a"/>
<rect x="120.63" y="592.50" width="9.53" height="7.00" fill="#d3d6de"/>
<rect x="120.63" y="600.80" width="9.53" height="7.30" fill="#f7efa6"/>
<rect x="130.16" y="592.50" width="9.53" height="7.00" fill="#d3d6de"/>
<rect x="130.16" y="600.80" width="9.53" height="7.30" fill="#5b5e6a"/>
<rect x="139.68" y="592.50" width="9.53" height="7.00" fill="#d3d6de"/>
<rect x="139.68" y="600.80" width="9.53" height="7.30" fill="#5b5e6a"/>
<rect x="149.21" y="592.50" width="9.53" height="7.00" fill="#d3d6de"/>
<rect x="149.21" y="600.80" width="9.53" height="7.30" fill="#f7efa6"/>
<rect x="158.74" y="592.50" width="9.53" height="7.00" fill="#d3d6de"/>
<rect x="158.74" y="600.80" width="9.53" height="7.30" fill="#f7efa6"/>
<rect x="168.26" y="592.50" width="9.53" height="7.00" fill="#d3d6de"/>
<rect x="168.26" y="600.80" width="9.53" height="7.30" fill="#f7efa6"/>
<rect x="177.79" y="592.50" width="9.53" height="7.00" fill="#d3d6de"/>
<rect x="177.79" y="600.80" width="9.53" height="7.30" fill="#1f7a2e"/>
<rect x="187.32" y="592.50" width="9.53" height="7.00" fill="#d3d6de"/>
<rect x="187.32" y="600.80" width="9.53" height="7.30" fill="#1f7a2e"/>
<rect x="196.84" y="592.50" width="9.53" height="7.00" fill="#0e0e10"/>
<rect x="196.84" y="600.80" width="9.53" height="7.30" fill="#1f7a2e"/>
<rect x="206.37" y="592.50" width="9.53" height="7.00" fill="#d3d6de"/>
<rect x="206.37" y="600.80" width="9.53" height="7.30" fill="#f7efa6"/>
<rect x="215.89" y="592.50" width="9.53" height="7.00" fill="#d3d6de"/>
<rect x="215.89" y="600.80" width="9.53" height="7.30" fill="#bdbdc0"/>
<rect x="225.42" y="592.50" width="9.53" height="7.00" fill="#d3d6de"/>
<rect x="225.42" y="600.80" width="9.53" height="7.30" fill="#1f7a2e"/>
<rect x="234.95" y="592.50" width="9.53" height="7.00" fill="#0e0e10"/>
<rect x="234.95" y="600.80" width="9.53" height="7.30" fill="#1f7a2e"/>
<rect x="244.47" y="592.50" width="9.53" height="7.00" fill="#6c6c70"/>
<rect x="244.47" y="600.80" width="9.53" height="7.30" fill="#1f7a2e"/>
<rect x="254.00" y="592.50" width="9.53" height="7.00" fill="#d3d6de"/>
<rect x="254.00" y="600.80" width="9.53" height="7.30" fill="#1f7a2e"/>
<rect x="263.53" y="592.50" width="9.53" height="7.00" fill="#0e0e10"/>
<rect x="263.53" y="600.80" width="9.53" height="7.30" fill="#f9a55b"/>
<rect x="273.05" y="592.50" width="9.53" height="7.00" fill="#0e0e10"/>
<rect x="273.05" y="600.80" width="9.53" height="7.30" fill="#8b4614"/>
<rect x="282.58" y="592.50" width="9.53" height="7.00" fill="#6c6c70"/>
<rect x="282.58" y="600.80" width="9.53" height="7.30" fill="#f9a55b"/>
<rect x="292.11" y="592.50" width="9.53" height="7.00" fill="#0e0e10"/>
<rect x="292.11" y="600.80" width="9.53" height="7.30" fill="#f7efa6"/>
<rect x="301.63" y="592.50" width="9.53" height="7.00" fill="#d3d6de"/>
<rect x="301.63" y="600.80" width="9.53" height="7.30" fill="#8fc45a"/>
<rect x="311.16" y="592.50" width="9.53" height="7.00" fill="#0e0e10"/>
<rect x="311.16" y="600.80" width="9.53" height="7.30" fill="#f9a55b"/>
<rect x="320.68" y="592.50" width="9.53" height="7.00" fill="#d3d6de"/>
<rect x="320.68" y="600.80" width="9.53" height="7.30" fill="#f9a55b"/>
<rect x="330.21" y="592.50" width="9.53" height="7.00" fill="#0e0e10"/>
<rect x="330.21" y="600.80" width="9.53" height="7.30" fill="#f7efa6"/>
<rect x="339.74" y="592.50" width="9.53" height="7.00" fill="#0e0e10"/>
<rect x="339.74" y="600.80" width="9.53" height="7.30" fill="#f7efa6"/>
<rect x="349.26" y="592.50" width="9.53" height="7.00" fill="#0e0e10"/>
<rect x="349.26" y="600.80" width="9.53" height="7.30" fill="#bdbdc0"/>
<rect x="358.79" y="592.50" width="9.53" height="7.00" fill="#6c6c70"/>
<rect x="358.79" y="600.80" width="9.53" height="7.30" fill="#bdbdc0"/>
<rect x="368.32" y="592.50" width="9.53" height="7.00" fill="#6c6c70"/>
<rect x="368.32" y="600.80" width="9.53" height="7.30" fill="#f9a55b"/>
<rect x="377.84" y="592.50" width="9.53" height="7.00" fill="#0e0e10"/>
<rect x="377.84" y="600.80" width="9.53" height="7.30" fill="#f9a55b"/>
<rect x="387.37" y="592.50" width="9.53" height="7.00" fill="#6c6c70"/>
<rect x="387.37" y="600.80" width="9.53" height="7.30" fill="#bdbdc0"/>
<rect x="396.89" y="592.50" width="9.53" height="7.00" fill="#d3d6de"/>
<rect x="396.89" y="600.80" width="9.53" height="7.30" fill="#bdbdc0"/>
<rect x="406.42" y="592.50" width="9.53" height="7.00" fill="#d3d6de"/>
<rect x="406.42" y="600.80" width="9.53" height="7.30" fill="#f7efa6"/>
<rect x="415.95" y="592.50" width="9.53" height="7.00" fill="#0e0e10"/>
<rect x="415.95" y="600.80" width="9.53" height="7.30" fill="#f7efa6"/>
<rect x="425.47" y="592.50" width="9.53" height="7.00" fill="#0e0e10"/>
<rect x="425.47" y="600.80" width="9.53" height="7.30" fill="#f7efa6"/>
<path d="M82.53 592.5V599.5M82.53 600.8V608.1 M92.05 592.5V599.5M92.05 600.8V608.1 M101.58 592.5V599.5M101.58 600.8V608.1 M111.11 592.5V599.5M111.11 600.8V608.1 M120.63 592.5V599.5M120.63 600.8V608.1 M130.16 592.5V599.5M130.16 600.8V608.1 M139.68 592.5V599.5M139.68 600.8V608.1 M149.21 592.5V599.5M149.21 600.8V608.1 M158.74 592.5V599.5M158.74 600.8V608.1 M168.26 592.5V599.5M168.26 600.8V608.1 M177.79 592.5V599.5M177.79 600.8V608.1 M187.32 592.5V599.5M187.32 600.8V608.1 M196.84 592.5V599.5M196.84 600.8V608.1 M206.37 592.5V599.5M206.37 600.8V608.1 M215.89 592.5V599.5M215.89 600.8V608.1 M225.42 592.5V599.5M225.42 600.8V608.1 M234.95 592.5V599.5M234.95 600.8V608.1 M244.47 592.5V599.5M244.47 600.8V608.1 M254.00 592.5V599.5M254.00 600.8V608.1 M263.53 592.5V599.5M263.53 600.8V608.1 M273.05 592.5V599.5M273.05 600.8V608.1 M282.58 592.5V599.5M282.58 600.8V608.1 M292.11 592.5V599.5M292.11 600.8V608.1 M301.63 592.5V599.5M301.63 600.8V608.1 M311.16 592.5V599.5M311.16 600.8V608.1 M320.68 592.5V599.5M320.68 600.8V608.1 M330.21 592.5V599.5M330.21 600.8V608.1 M339.74 592.5V599.5M339.74 600.8V608.1 M349.26 592.5V599.5M349.26 600.8V608.1 M358.79 592.5V599.5M358.79 600.8V608.1 M368.32 592.5V599.5M368.32 600.8V608.1 M377.84 592.5V599.5M377.84 600.8V608.1 M387.37 592.5V599.5M387.37 600.8V608.1 M396.89 592.5V599.5M396.89 600.8V608.1 M406.42 592.5V599.5M406.42 600.8V608.1 M415.95 592.5V599.5M415.95 600.8V608.1 M425.47 592.5V599.5M425.47 600.8V608.1" stroke="#ffffff" stroke-opacity="0.5" stroke-width="0.75" fill="none"/>
<text x="75.39" y="611.5" font-size="6.6" transform="rotate(90 75.39 611.5)">KOPT-K1</text>
<text x="84.91" y="611.5" font-size="6.6" transform="rotate(90 84.91 611.5)">MOLT-4</text>
<text x="94.44" y="611.5" font-size="6.6" transform="rotate(90 94.44 611.5)">SUP-T13</text>
<text x="103.97" y="611.5" font-size="6.6" transform="rotate(90 103.97 611.5)">CCRF-H-SB2</text>
<text x="113.49" y="611.5" font-size="6.6" transform="rotate(90 113.49 611.5)">Karpas384</text>
<text x="123.02" y="611.5" font-size="6.6" transform="rotate(90 123.02 611.5)">TLBR-1</text>
<text x="132.55" y="611.5" font-size="6.6" transform="rotate(90 132.55 611.5)">DERL-2</text>
<text x="142.07" y="611.5" font-size="6.6" transform="rotate(90 142.07 611.5)">DERL-7</text>
<text x="151.60" y="611.5" font-size="6.6" transform="rotate(90 151.60 611.5)">Mac2a</text>
<text x="161.12" y="611.5" font-size="6.6" transform="rotate(90 161.12 611.5)">Mac1</text>
<text x="170.65" y="611.5" font-size="6.6" transform="rotate(90 170.65 611.5)">TLBR-2</text>
<text x="180.18" y="611.5" font-size="6.6" transform="rotate(90 180.18 611.5)">NK-YS</text>
<text x="189.70" y="611.5" font-size="6.6" transform="rotate(90 189.70 611.5)">YT</text>
<text x="199.23" y="611.5" font-size="6.6" transform="rotate(90 199.23 611.5)">MTA</text>
<text x="208.76" y="611.5" font-size="6.6" transform="rotate(90 208.76 611.5)">SUP-M2</text>
<text x="218.28" y="611.5" font-size="6.6" transform="rotate(90 218.28 611.5)">MyLa</text>
<text x="227.81" y="611.5" font-size="6.6" transform="rotate(90 227.81 611.5)">SNK-6</text>
<text x="237.33" y="611.5" font-size="6.6" transform="rotate(90 237.33 611.5)">KHYG-1</text>
<text x="246.86" y="611.5" font-size="6.6" transform="rotate(90 246.86 611.5)">NK-92</text>
<text x="256.39" y="611.5" font-size="6.6" transform="rotate(90 256.39 611.5)">NKL</text>
<text x="265.91" y="611.5" font-size="6.6" transform="rotate(90 265.91 611.5)">PEER</text>
<text x="275.44" y="611.5" font-size="6.6" transform="rotate(90 275.44 611.5)">SMZ-1</text>
<text x="284.97" y="611.5" font-size="6.6" transform="rotate(90 284.97 611.5)">SUP-T11</text>
<text x="294.49" y="611.5" font-size="6.6" transform="rotate(90 294.49 611.5)">DL-40</text>
<text x="304.02" y="611.5" font-size="6.6" transform="rotate(90 304.02 611.5)">MOTN-1</text>
<text x="313.55" y="611.5" font-size="6.6" transform="rotate(90 313.55 611.5)">DND-41</text>
<text x="323.07" y="611.5" font-size="6.6" transform="rotate(90 323.07 611.5)">ALL-SIL</text>
<text x="332.60" y="611.5" font-size="6.6" transform="rotate(90 332.60 611.5)">SU-DHL-1</text>
<text x="342.12" y="611.5" font-size="6.6" transform="rotate(90 342.12 611.5)">DEL</text>
<text x="351.65" y="611.5" font-size="6.6" transform="rotate(90 351.65 611.5)">SeAx</text>
<text x="361.18" y="611.5" font-size="6.6" transform="rotate(90 361.18 611.5)">HuT78</text>
<text x="370.70" y="611.5" font-size="6.6" transform="rotate(90 370.70 611.5)">Jurkat</text>
<text x="380.23" y="611.5" font-size="6.6" transform="rotate(90 380.23 611.5)">Loucy</text>
<text x="389.76" y="611.5" font-size="6.6" transform="rotate(90 389.76 611.5)">H9</text>
<text x="399.28" y="611.5" font-size="6.6" transform="rotate(90 399.28 611.5)">HH</text>
<text x="408.81" y="611.5" font-size="6.6" transform="rotate(90 408.81 611.5)">OCI-Ly13.2</text>
<text x="418.33" y="611.5" font-size="6.6" transform="rotate(90 418.33 611.5)">Karpas299</text>
<text x="427.86" y="611.5" font-size="6.6" transform="rotate(90 427.86 611.5)">L-82</text>
<text x="440.00" y="458.49" font-size="7.0">drug</text>
<text x="440.00" y="466.79" font-size="7.0">class</text>
<rect x="444.20" y="471.07" width="7.00" height="8.40" fill="#45ab4b"/>
<text x="454.30" y="477.78" font-size="7.05">Dinaciclib</text>
<rect x="444.20" y="480.62" width="7.00" height="8.40" fill="#f5b3c6"/>
<text x="454.30" y="487.33" font-size="7.05">Romidepsin</text>
<rect x="444.20" y="490.18" width="7.00" height="8.40" fill="#1d8a88"/>
<text x="454.30" y="496.88" font-size="7.05">Siremadlin</text>
<rect x="444.20" y="499.73" width="7.00" height="8.40" fill="#1d8a88"/>
<text x="454.30" y="506.43" font-size="7.05">SAR405838</text>
<rect x="444.20" y="509.28" width="7.00" height="8.40" fill="#1d8a88"/>
<text x="454.30" y="515.98" font-size="7.05">AMG-232</text>
<rect x="444.20" y="518.82" width="7.00" height="8.40" fill="#1d8a88"/>
<text x="454.30" y="525.53" font-size="7.05">Idasanutlin</text>
<rect x="444.20" y="528.38" width="7.00" height="8.40" fill="#f07f1f"/>
<text x="454.30" y="535.08" font-size="7.05">Venetoclax</text>
<rect x="444.20" y="537.92" width="7.00" height="8.40" fill="#a8d0e6"/>
<text x="454.30" y="544.63" font-size="7.05">Ibrutinib</text>
<rect x="444.20" y="547.47" width="7.00" height="8.40" fill="#1b4b8c"/>
<text x="454.30" y="554.18" font-size="7.05">Prima-1MET</text>
<rect x="444.20" y="557.02" width="7.00" height="8.40" fill="#e363a5"/>
<text x="454.30" y="563.73" font-size="7.05">Ruxolitinib</text>
<rect x="444.20" y="566.57" width="7.00" height="8.40" fill="#8a4b9e"/>
<text x="454.30" y="573.28" font-size="7.05">Bendamustine</text>
<rect x="444.20" y="576.12" width="7.00" height="8.40" fill="#8a4b9e"/>
<text x="454.30" y="582.83" font-size="7.05">Cladribine</text>
<text x="440" y="598.25" font-size="6.85"><tspan font-style="italic">TP53</tspan> mutation status</text>
<text x="440.00" y="606.93" font-size="6.85">lymphoma category</text>
<text x="25.80" y="493.31" font-size="6.5">DSS</text>
<rect x="30.10" y="498.80" width="4.60" height="71.00" fill="url(#dss)"/>
<text x="38.00" y="503.94" font-size="6.3">40</text>
<text x="38.00" y="521.44" font-size="6.3">30</text>
<text x="38.00" y="538.64" font-size="6.3">20</text>
<text x="38.00" y="555.64" font-size="6.3">10</text>
<text x="38.00" y="572.64" font-size="6.3">0</text>
<line x1="64.90" y1="475.27" x2="69.50" y2="475.27" stroke="#222" stroke-width="0.7"/>
<line x1="64.90" y1="484.82" x2="69.50" y2="484.82" stroke="#222" stroke-width="0.7"/>
<line x1="64.90" y1="475.27" x2="64.90" y2="484.82" stroke="#222" stroke-width="0.7"/>
<line x1="68.20" y1="513.48" x2="69.50" y2="513.48" stroke="#222" stroke-width="0.7"/>
<line x1="68.20" y1="523.02" x2="69.50" y2="523.02" stroke="#222" stroke-width="0.7"/>
<line x1="68.20" y1="513.48" x2="68.20" y2="523.02" stroke="#222" stroke-width="0.7"/>
<line x1="67.60" y1="503.93" x2="69.50" y2="503.93" stroke="#222" stroke-width="0.7"/>
<line x1="67.60" y1="518.25" x2="68.20" y2="518.25" stroke="#222" stroke-width="0.7"/>
<line x1="67.60" y1="503.93" x2="67.60" y2="518.25" stroke="#222" stroke-width="0.7"/>
<line x1="66.80" y1="494.38" x2="69.50" y2="494.38" stroke="#222" stroke-width="0.7"/>
<line x1="66.80" y1="511.09" x2="67.60" y2="511.09" stroke="#222" stroke-width="0.7"/>
<line x1="66.80" y1="494.38" x2="66.80" y2="511.09" stroke="#222" stroke-width="0.7"/>
<line x1="68.00" y1="551.67" x2="69.50" y2="551.67" stroke="#222" stroke-width="0.7"/>
<line x1="68.00" y1="561.23" x2="69.50" y2="561.23" stroke="#222" stroke-width="0.7"/>
<line x1="68.00" y1="551.67" x2="68.00" y2="561.23" stroke="#222" stroke-width="0.7"/>
<line x1="67.00" y1="542.12" x2="69.50" y2="542.12" stroke="#222" stroke-width="0.7"/>
<line x1="67.00" y1="556.45" x2="68.00" y2="556.45" stroke="#222" stroke-width="0.7"/>
<line x1="67.00" y1="542.12" x2="67.00" y2="556.45" stroke="#222" stroke-width="0.7"/>
<line x1="66.00" y1="532.58" x2="69.50" y2="532.58" stroke="#222" stroke-width="0.7"/>
<line x1="66.00" y1="549.29" x2="67.00" y2="549.29" stroke="#222" stroke-width="0.7"/>
<line x1="66.00" y1="532.58" x2="66.00" y2="549.29" stroke="#222" stroke-width="0.7"/>
<line x1="67.00" y1="570.77" x2="69.50" y2="570.77" stroke="#222" stroke-width="0.7"/>
<line x1="67.00" y1="580.33" x2="69.50" y2="580.33" stroke="#222" stroke-width="0.7"/>
<line x1="67.00" y1="570.77" x2="67.00" y2="580.33" stroke="#222" stroke-width="0.7"/>
<line x1="64.00" y1="540.93" x2="66.00" y2="540.93" stroke="#222" stroke-width="0.7"/>
<line x1="64.00" y1="575.55" x2="67.00" y2="575.55" stroke="#222" stroke-width="0.7"/>
<line x1="64.00" y1="540.93" x2="64.00" y2="575.55" stroke="#222" stroke-width="0.7"/>
<line x1="60.10" y1="502.73" x2="66.80" y2="502.73" stroke="#222" stroke-width="0.7"/>
<line x1="60.10" y1="558.24" x2="64.00" y2="558.24" stroke="#222" stroke-width="0.7"/>
<line x1="60.10" y1="502.73" x2="60.10" y2="558.24" stroke="#222" stroke-width="0.7"/>
<line x1="53.40" y1="480.05" x2="64.90" y2="480.05" stroke="#222" stroke-width="0.7"/>
<line x1="53.40" y1="530.49" x2="60.10" y2="530.49" stroke="#222" stroke-width="0.7"/>
<line x1="53.40" y1="480.05" x2="53.40" y2="530.49" stroke="#222" stroke-width="0.7"/>
<line x1="77.76" y1="464.30" x2="77.76" y2="467.60" stroke="#222" stroke-width="0.7"/>
<line x1="87.29" y1="464.30" x2="87.29" y2="467.60" stroke="#222" stroke-width="0.7"/>
<line x1="77.76" y1="464.30" x2="87.29" y2="464.30" stroke="#222" stroke-width="0.7"/>
<line x1="106.34" y1="465.00" x2="106.34" y2="467.60" stroke="#222" stroke-width="0.7"/>
<line x1="115.87" y1="465.00" x2="115.87" y2="467.60" stroke="#222" stroke-width="0.7"/>
<line x1="106.34" y1="465.00" x2="115.87" y2="465.00" stroke="#222" stroke-width="0.7"/>
<line x1="96.82" y1="462.80" x2="96.82" y2="467.60" stroke="#222" stroke-width="0.7"/>
<line x1="111.11" y1="462.80" x2="111.11" y2="465.00" stroke="#222" stroke-width="0.7"/>
<line x1="96.82" y1="462.80" x2="111.11" y2="462.80" stroke="#222" stroke-width="0.7"/>
<line x1="82.53" y1="462.10" x2="82.53" y2="464.30" stroke="#222" stroke-width="0.7"/>
<line x1="103.96" y1="462.10" x2="103.96" y2="462.80" stroke="#222" stroke-width="0.7"/>
<line x1="82.53" y1="462.10" x2="103.96" y2="462.10" stroke="#222" stroke-width="0.7"/>
<line x1="134.92" y1="465.10" x2="134.92" y2="467.60" stroke="#222" stroke-width="0.7"/>
<line x1="144.45" y1="465.10" x2="144.45" y2="467.60" stroke="#222" stroke-width="0.7"/>
<line x1="134.92" y1="465.10" x2="144.45" y2="465.10" stroke="#222" stroke-width="0.7"/>
<line x1="125.39" y1="464.30" x2="125.39" y2="467.60" stroke="#222" stroke-width="0.7"/>
<line x1="139.68" y1="464.30" x2="139.68" y2="465.10" stroke="#222" stroke-width="0.7"/>
<line x1="125.39" y1="464.30" x2="139.68" y2="464.30" stroke="#222" stroke-width="0.7"/>
<line x1="163.50" y1="465.10" x2="163.50" y2="467.60" stroke="#222" stroke-width="0.7"/>
<line x1="173.03" y1="465.10" x2="173.03" y2="467.60" stroke="#222" stroke-width="0.7"/>
<line x1="163.50" y1="465.10" x2="173.03" y2="465.10" stroke="#222" stroke-width="0.7"/>
<line x1="153.97" y1="463.40" x2="153.97" y2="467.60" stroke="#222" stroke-width="0.7"/>
<line x1="168.26" y1="463.40" x2="168.26" y2="465.10" stroke="#222" stroke-width="0.7"/>
<line x1="153.97" y1="463.40" x2="168.26" y2="463.40" stroke="#222" stroke-width="0.7"/>
<line x1="132.54" y1="462.00" x2="132.54" y2="464.30" stroke="#222" stroke-width="0.7"/>
<line x1="161.12" y1="462.00" x2="161.12" y2="463.40" stroke="#222" stroke-width="0.7"/>
<line x1="132.54" y1="462.00" x2="161.12" y2="462.00" stroke="#222" stroke-width="0.7"/>
<line x1="93.24" y1="459.30" x2="93.24" y2="462.10" stroke="#222" stroke-width="0.7"/>
<line x1="146.83" y1="459.30" x2="146.83" y2="462.00" stroke="#222" stroke-width="0.7"/>
<line x1="93.24" y1="459.30" x2="146.83" y2="459.30" stroke="#222" stroke-width="0.7"/>
<line x1="182.55" y1="466.30" x2="182.55" y2="467.60" stroke="#222" stroke-width="0.7"/>
<line x1="192.08" y1="466.30" x2="192.08" y2="467.60" stroke="#222" stroke-width="0.7"/>
<line x1="182.55" y1="466.30" x2="192.08" y2="466.30" stroke="#222" stroke-width="0.7"/>
<line x1="201.61" y1="465.10" x2="201.61" y2="467.60" stroke="#222" stroke-width="0.7"/>
<line x1="211.13" y1="465.10" x2="211.13" y2="467.60" stroke="#222" stroke-width="0.7"/>
<line x1="201.61" y1="465.10" x2="211.13" y2="465.10" stroke="#222" stroke-width="0.7"/>
<line x1="187.32" y1="463.40" x2="187.32" y2="466.30" stroke="#222" stroke-width="0.7"/>
<line x1="206.37" y1="463.40" x2="206.37" y2="465.10" stroke="#222" stroke-width="0.7"/>
<line x1="187.32" y1="463.40" x2="206.37" y2="463.40" stroke="#222" stroke-width="0.7"/>
<line x1="220.66" y1="462.30" x2="220.66" y2="467.60" stroke="#222" stroke-width="0.7"/>
<line x1="230.18" y1="462.30" x2="230.18" y2="467.60" stroke="#222" stroke-width="0.7"/>
<line x1="220.66" y1="462.30" x2="230.18" y2="462.30" stroke="#222" stroke-width="0.7"/>
<line x1="196.84" y1="461.50" x2="196.84" y2="463.40" stroke="#222" stroke-width="0.7"/>
<line x1="225.42" y1="461.50" x2="225.42" y2="462.30" stroke="#222" stroke-width="0.7"/>
<line x1="196.84" y1="461.50" x2="225.42" y2="461.50" stroke="#222" stroke-width="0.7"/>
<line x1="249.24" y1="465.80" x2="249.24" y2="467.60" stroke="#222" stroke-width="0.7"/>
<line x1="258.76" y1="465.80" x2="258.76" y2="467.60" stroke="#222" stroke-width="0.7"/>
<line x1="249.24" y1="465.80" x2="258.76" y2="465.80" stroke="#222" stroke-width="0.7"/>
<line x1="239.71" y1="464.30" x2="239.71" y2="467.60" stroke="#222" stroke-width="0.7"/>
<line x1="254.00" y1="464.30" x2="254.00" y2="465.80" stroke="#222" stroke-width="0.7"/>
<line x1="239.71" y1="464.30" x2="254.00" y2="464.30" stroke="#222" stroke-width="0.7"/>
<line x1="277.82" y1="465.80" x2="277.82" y2="467.60" stroke="#222" stroke-width="0.7"/>
<line x1="287.34" y1="465.80" x2="287.34" y2="467.60" stroke="#222" stroke-width="0.7"/>
<line x1="277.82" y1="465.80" x2="287.34" y2="465.80" stroke="#222" stroke-width="0.7"/>
<line x1="268.29" y1="465.30" x2="268.29" y2="467.60" stroke="#222" stroke-width="0.7"/>
<line x1="282.58" y1="465.30" x2="282.58" y2="465.80" stroke="#222" stroke-width="0.7"/>
<line x1="268.29" y1="465.30" x2="282.58" y2="465.30" stroke="#222" stroke-width="0.7"/>
<line x1="296.87" y1="466.70" x2="296.87" y2="467.60" stroke="#222" stroke-width="0.7"/>
<line x1="306.39" y1="466.70" x2="306.39" y2="467.60" stroke="#222" stroke-width="0.7"/>
<line x1="296.87" y1="466.70" x2="306.39" y2="466.70" stroke="#222" stroke-width="0.7"/>
<line x1="275.43" y1="464.00" x2="275.43" y2="465.30" stroke="#222" stroke-width="0.7"/>
<line x1="301.63" y1="464.00" x2="301.63" y2="466.70" stroke="#222" stroke-width="0.7"/>
<line x1="275.43" y1="464.00" x2="301.63" y2="464.00" stroke="#222" stroke-width="0.7"/>
<line x1="315.92" y1="465.50" x2="315.92" y2="467.60" stroke="#222" stroke-width="0.7"/>
<line x1="325.45" y1="465.50" x2="325.45" y2="467.60" stroke="#222" stroke-width="0.7"/>
<line x1="315.92" y1="465.50" x2="325.45" y2="465.50" stroke="#222" stroke-width="0.7"/>
<line x1="320.68" y1="464.50" x2="320.68" y2="465.50" stroke="#222" stroke-width="0.7"/>
<line x1="334.97" y1="464.50" x2="334.97" y2="467.60" stroke="#222" stroke-width="0.7"/>
<line x1="320.68" y1="464.50" x2="334.97" y2="464.50" stroke="#222" stroke-width="0.7"/>
<line x1="363.55" y1="466.30" x2="363.55" y2="467.60" stroke="#222" stroke-width="0.7"/>
<line x1="373.08" y1="466.30" x2="373.08" y2="467.60" stroke="#222" stroke-width="0.7"/>
<line x1="363.55" y1="466.30" x2="373.08" y2="466.30" stroke="#222" stroke-width="0.7"/>
<line x1="354.03" y1="465.30" x2="354.03" y2="467.60" stroke="#222" stroke-width="0.7"/>
<line x1="368.32" y1="465.30" x2="368.32" y2="466.30" stroke="#222" stroke-width="0.7"/>
<line x1="354.03" y1="465.30" x2="368.32" y2="465.30" stroke="#222" stroke-width="0.7"/>
<line x1="344.50" y1="464.20" x2="344.50" y2="467.60" stroke="#222" stroke-width="0.7"/>
<line x1="361.17" y1="464.20" x2="361.17" y2="465.30" stroke="#222" stroke-width="0.7"/>
<line x1="344.50" y1="464.20" x2="361.17" y2="464.20" stroke="#222" stroke-width="0.7"/>
<line x1="382.61" y1="465.50" x2="382.61" y2="467.60" stroke="#222" stroke-width="0.7"/>
<line x1="392.13" y1="465.50" x2="392.13" y2="467.60" stroke="#222" stroke-width="0.7"/>
<line x1="382.61" y1="465.50" x2="392.13" y2="465.50" stroke="#222" stroke-width="0.7"/>
<line x1="401.66" y1="466.30" x2="401.66" y2="467.60" stroke="#222" stroke-width="0.7"/>
<line x1="411.18" y1="466.30" x2="411.18" y2="467.60" stroke="#222" stroke-width="0.7"/>
<line x1="401.66" y1="466.30" x2="411.18" y2="466.30" stroke="#222" stroke-width="0.7"/>
<line x1="420.71" y1="466.00" x2="420.71" y2="467.60" stroke="#222" stroke-width="0.7"/>
<line x1="430.24" y1="466.00" x2="430.24" y2="467.60" stroke="#222" stroke-width="0.7"/>
<line x1="420.71" y1="466.00" x2="430.24" y2="466.00" stroke="#222" stroke-width="0.7"/>
<line x1="406.42" y1="465.00" x2="406.42" y2="466.30" stroke="#222" stroke-width="0.7"/>
<line x1="425.47" y1="465.00" x2="425.47" y2="466.00" stroke="#222" stroke-width="0.7"/>
<line x1="406.42" y1="465.00" x2="425.47" y2="465.00" stroke="#222" stroke-width="0.7"/>
<line x1="387.37" y1="464.00" x2="387.37" y2="465.50" stroke="#222" stroke-width="0.7"/>
<line x1="415.95" y1="464.00" x2="415.95" y2="465.00" stroke="#222" stroke-width="0.7"/>
<line x1="387.37" y1="464.00" x2="415.95" y2="464.00" stroke="#222" stroke-width="0.7"/>
<line x1="352.84" y1="463.40" x2="352.84" y2="464.20" stroke="#222" stroke-width="0.7"/>
<line x1="401.66" y1="463.40" x2="401.66" y2="464.00" stroke="#222" stroke-width="0.7"/>
<line x1="352.84" y1="463.40" x2="401.66" y2="463.40" stroke="#222" stroke-width="0.7"/>
<line x1="327.83" y1="462.60" x2="327.83" y2="464.50" stroke="#222" stroke-width="0.7"/>
<line x1="377.25" y1="462.60" x2="377.25" y2="463.40" stroke="#222" stroke-width="0.7"/>
<line x1="327.83" y1="462.60" x2="377.25" y2="462.60" stroke="#222" stroke-width="0.7"/>
<line x1="288.53" y1="462.00" x2="288.53" y2="464.00" stroke="#222" stroke-width="0.7"/>
<line x1="352.54" y1="462.00" x2="352.54" y2="462.60" stroke="#222" stroke-width="0.7"/>
<line x1="288.53" y1="462.00" x2="352.54" y2="462.00" stroke="#222" stroke-width="0.7"/>
<line x1="246.86" y1="460.30" x2="246.86" y2="464.30" stroke="#222" stroke-width="0.7"/>
<line x1="320.54" y1="460.30" x2="320.54" y2="462.00" stroke="#222" stroke-width="0.7"/>
<line x1="246.86" y1="460.30" x2="320.54" y2="460.30" stroke="#222" stroke-width="0.7"/>
<line x1="211.13" y1="456.20" x2="211.13" y2="461.50" stroke="#222" stroke-width="0.7"/>
<line x1="283.70" y1="456.20" x2="283.70" y2="460.30" stroke="#222" stroke-width="0.7"/>
<line x1="211.13" y1="456.20" x2="283.70" y2="456.20" stroke="#222" stroke-width="0.7"/>
<line x1="120.04" y1="451.70" x2="120.04" y2="459.30" stroke="#222" stroke-width="0.7"/>
<line x1="247.41" y1="451.70" x2="247.41" y2="456.20" stroke="#222" stroke-width="0.7"/>
<line x1="120.04" y1="451.70" x2="247.41" y2="451.70" stroke="#222" stroke-width="0.7"/>
<text x="255.30" y="662.69" font-size="7.0" text-anchor="middle" textLength="33.5" lengthAdjust="spacingAndGlyphs">Drug class</text>
<rect x="96.80" y="668.30" width="6.60" height="6.60" fill="#f07f1f"/>
<text x="106.30" y="674.00" font-size="6.75">BCL2i</text>
<rect x="130.90" y="668.30" width="6.60" height="6.60" fill="#a8d0e6"/>
<text x="140.40" y="674.00" font-size="6.75">BTKi</text>
<rect x="162.60" y="668.30" width="6.60" height="6.60" fill="#45ab4b"/>
<text x="172.10" y="674.00" font-size="6.75">CDKi</text>
<rect x="194.90" y="668.30" width="6.60" height="6.60" fill="#8a4b9e"/>
<text x="204.40" y="674.00" font-size="6.75">cytotostatic</text>
<rect x="248.00" y="668.30" width="6.60" height="6.60" fill="#f5b3c6"/>
<text x="257.50" y="674.00" font-size="6.75">HDACi</text>
<rect x="285.90" y="668.30" width="6.60" height="6.60" fill="#e363a5"/>
<text x="295.40" y="674.00" font-size="6.75">JAKi</text>
<rect x="317.00" y="668.30" width="6.60" height="6.60" fill="#1d8a88"/>
<text x="326.50" y="674.00" font-size="6.75">MDM2i</text>
<rect x="356.80" y="668.30" width="6.60" height="6.60" fill="#1b4b8c"/>
<text x="366.30" y="674.00" font-size="6.75">p53 reactivator</text>
<text x="257.20" y="688.49" font-size="7.0" text-anchor="middle" textLength="124" lengthAdjust="spacingAndGlyphs">Represented T-cell lymphoma category</text>
<rect x="137.20" y="692.80" width="6.60" height="6.60" fill="#f7efa6"/>
<text x="146.70" y="698.50" font-size="6.75">ALCL</text>
<rect x="169.80" y="692.80" width="6.60" height="6.60" fill="#bdbdbd"/>
<text x="179.30" y="698.50" font-size="6.75">CTCL</text>
<rect x="204.50" y="692.80" width="6.60" height="6.60" fill="#6b6b6b"/>
<text x="214.00" y="698.50" font-size="6.75">GD</text>
<rect x="231.80" y="692.80" width="6.60" height="6.60" fill="#1f7a2e"/>
<text x="241.30" y="698.50" font-size="6.75">NK</text>
<rect x="258.20" y="692.80" width="6.60" height="6.60" fill="#8b4614"/>
<text x="267.70" y="698.50" font-size="6.75">PTCL-NOS</text>
<rect x="308.40" y="692.80" width="6.60" height="6.60" fill="#f9a55b"/>
<text x="317.90" y="698.50" font-size="6.75">T-ALL</text>
<rect x="343.00" y="692.80" width="6.60" height="6.60" fill="#8fc45a"/>
<text x="352.50" y="698.50" font-size="6.75">T-LGLL</text>
<text x="254.4" y="713.00" font-size="6.75" text-anchor="middle"><tspan font-style="italic">TP53</tspan> mutation status</text>
<rect x="190.00" y="718.20" width="6.60" height="6.60" fill="#bdbdbd"/>
<text x="199.50" y="723.90" font-size="6.75">wt</text>
<rect x="213.90" y="718.20" width="6.60" height="6.60" fill="#000"/>
<text x="223.40" y="723.90" font-size="6.75">nonsynonymous</text>
<rect x="281.70" y="718.20" width="6.60" height="6.60" fill="#6b6b6b"/>
<text x="291.20" y="723.90" font-size="6.75">nonsense</text>
<rect x="0.5" y="0.5" width="519" height="732" fill="none" stroke="#525252" stroke-width="1"/>
</svg></body></html>
